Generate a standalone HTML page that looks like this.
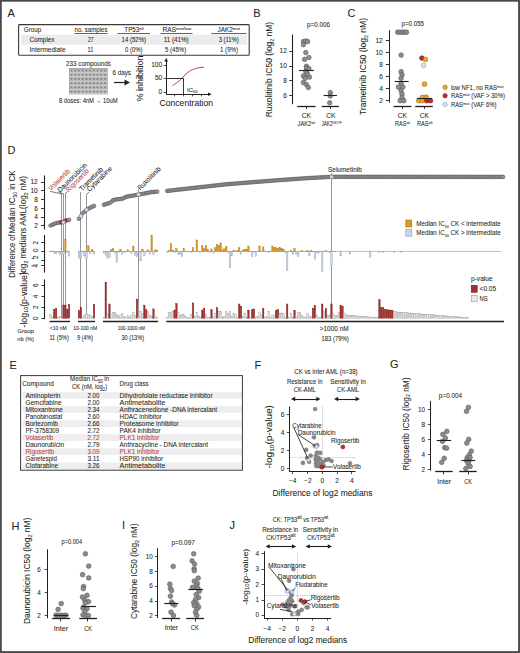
<!DOCTYPE html>
<html><head><meta charset="utf-8"><style>
html,body{margin:0;padding:0;background:#fff;}
body{width:520px;height:653px;overflow:hidden;}
svg{display:block;font-family:"Liberation Sans", sans-serif;}
</style></head><body>
<svg width="520" height="653" viewBox="0 0 520 653" fill="#231f20">
<rect x="0" y="0" width="520" height="653" fill="#ffffff"/>
<text x="7.60" y="17.20" font-size="11" stroke="#231f20" stroke-width="0.06">A</text>
<text x="253.20" y="17.20" font-size="11" stroke="#231f20" stroke-width="0.06">B</text>
<text x="347.40" y="17.00" font-size="11" stroke="#231f20" stroke-width="0.06">C</text>
<text x="7.60" y="153.80" font-size="11" stroke="#231f20" stroke-width="0.06">D</text>
<text x="9.40" y="368.60" font-size="11" stroke="#231f20" stroke-width="0.06">E</text>
<text x="254.40" y="369.40" font-size="11" stroke="#231f20" stroke-width="0.06">F</text>
<text x="390.00" y="368.40" font-size="11" stroke="#231f20" stroke-width="0.06">G</text>
<text x="11.40" y="530.00" font-size="11" stroke="#231f20" stroke-width="0.06">H</text>
<text x="122.00" y="529.40" font-size="11" stroke="#231f20" stroke-width="0.06">I</text>
<text x="229.40" y="529.40" font-size="11" stroke="#231f20" stroke-width="0.06">J</text>
<rect x="21.00" y="34.70" width="226.00" height="10.10" fill="#ececec"/>
<rect x="18.6" y="24.6" width="230.6" height="30.6" fill="none" stroke="#3a3a3a" stroke-width="1.1" rx="0.8"/>
<text x="23.80" y="31.90" font-size="6.6" stroke="#231f20" stroke-width="0.06" textLength="17.40" lengthAdjust="spacingAndGlyphs">Group</text>
<text x="74.50" y="31.90" font-size="6.6" stroke="#231f20" stroke-width="0.06" textLength="33.00" lengthAdjust="spacingAndGlyphs">no. samples</text>
<line x1="74.50" y1="33.50" x2="107.50" y2="33.50" stroke="#231f20" stroke-width="0.7"/>
<text x="124.30" y="31.90" font-size="6.6" stroke="#231f20" stroke-width="0.06" textLength="19.50" lengthAdjust="spacingAndGlyphs">TP53<tspan font-size="4.4" dy="-2.4">alt</tspan></text>
<line x1="117.50" y1="33.50" x2="150.00" y2="33.50" stroke="#231f20" stroke-width="0.7"/>
<text x="162.50" y="31.90" font-size="6.6" stroke="#231f20" stroke-width="0.06" textLength="28.70" lengthAdjust="spacingAndGlyphs">RAS<tspan font-size="4.4" dy="-2.4">mut/low</tspan></text>
<line x1="160.50" y1="33.50" x2="192.50" y2="33.50" stroke="#231f20" stroke-width="0.7"/>
<text x="217.50" y="31.90" font-size="6.6" stroke="#231f20" stroke-width="0.06" textLength="22.50" lengthAdjust="spacingAndGlyphs">JAK2<tspan font-size="4.4" dy="-2.4">mut</tspan></text>
<line x1="211.30" y1="33.50" x2="246.30" y2="33.50" stroke="#231f20" stroke-width="0.7"/>
<text x="29.50" y="42.40" font-size="6.6" stroke="#231f20" stroke-width="0.06" textLength="25.00" lengthAdjust="spacingAndGlyphs">Complex</text>
<text x="90.80" y="42.40" font-size="6.6" text-anchor="middle" stroke="#231f20" stroke-width="0.06" textLength="5.80" lengthAdjust="spacingAndGlyphs">27</text>
<text x="133.80" y="42.40" font-size="6.6" text-anchor="middle" stroke="#231f20" stroke-width="0.06" textLength="24.50" lengthAdjust="spacingAndGlyphs">14 (52%)</text>
<text x="176.20" y="42.40" font-size="6.6" text-anchor="middle" stroke="#231f20" stroke-width="0.06" textLength="25.00" lengthAdjust="spacingAndGlyphs">11 (41%)</text>
<text x="228.70" y="42.40" font-size="6.6" text-anchor="middle" stroke="#231f20" stroke-width="0.06" textLength="20.00" lengthAdjust="spacingAndGlyphs">3 (11%)</text>
<text x="29.50" y="52.40" font-size="6.6" stroke="#231f20" stroke-width="0.06" textLength="36.00" lengthAdjust="spacingAndGlyphs">Intermediate</text>
<text x="90.40" y="52.40" font-size="6.6" text-anchor="middle" stroke="#231f20" stroke-width="0.06" textLength="5.80" lengthAdjust="spacingAndGlyphs">11</text>
<text x="133.80" y="52.40" font-size="6.6" text-anchor="middle" stroke="#231f20" stroke-width="0.06" textLength="17.50" lengthAdjust="spacingAndGlyphs">0 (0%)</text>
<text x="175.60" y="52.40" font-size="6.6" text-anchor="middle" stroke="#231f20" stroke-width="0.06" textLength="21.20" lengthAdjust="spacingAndGlyphs">5 (45%)</text>
<text x="229.00" y="52.40" font-size="6.6" text-anchor="middle" stroke="#231f20" stroke-width="0.06" textLength="18.00" lengthAdjust="spacingAndGlyphs">1 (9%)</text>
<text x="66.00" y="66.20" font-size="6.6" stroke="#231f20" stroke-width="0.06" textLength="45.00" lengthAdjust="spacingAndGlyphs">233 compounds</text>
<rect x="69.30" y="68.30" width="37.90" height="25.70" fill="#b9b9b9" stroke="#8a8a8a" stroke-width="0.6"/>
<circle cx="71.60" cy="70.60" r="0.9" fill="#7c7c7c"/>
<circle cx="71.60" cy="74.80" r="0.9" fill="#7c7c7c"/>
<circle cx="71.60" cy="79.00" r="0.9" fill="#7c7c7c"/>
<circle cx="71.60" cy="83.20" r="0.9" fill="#7c7c7c"/>
<circle cx="71.60" cy="87.40" r="0.9" fill="#7c7c7c"/>
<circle cx="71.60" cy="91.60" r="0.9" fill="#7c7c7c"/>
<circle cx="75.30" cy="70.60" r="0.9" fill="#7c7c7c"/>
<circle cx="75.30" cy="74.80" r="0.9" fill="#7c7c7c"/>
<circle cx="75.30" cy="79.00" r="0.9" fill="#7c7c7c"/>
<circle cx="75.30" cy="83.20" r="0.9" fill="#7c7c7c"/>
<circle cx="75.30" cy="87.40" r="0.9" fill="#7c7c7c"/>
<circle cx="75.30" cy="91.60" r="0.9" fill="#7c7c7c"/>
<circle cx="79.00" cy="70.60" r="0.9" fill="#7c7c7c"/>
<circle cx="79.00" cy="74.80" r="0.9" fill="#7c7c7c"/>
<circle cx="79.00" cy="79.00" r="0.9" fill="#7c7c7c"/>
<circle cx="79.00" cy="83.20" r="0.9" fill="#7c7c7c"/>
<circle cx="79.00" cy="87.40" r="0.9" fill="#7c7c7c"/>
<circle cx="79.00" cy="91.60" r="0.9" fill="#7c7c7c"/>
<circle cx="82.70" cy="70.60" r="0.9" fill="#7c7c7c"/>
<circle cx="82.70" cy="74.80" r="0.9" fill="#7c7c7c"/>
<circle cx="82.70" cy="79.00" r="0.9" fill="#7c7c7c"/>
<circle cx="82.70" cy="83.20" r="0.9" fill="#7c7c7c"/>
<circle cx="82.70" cy="87.40" r="0.9" fill="#7c7c7c"/>
<circle cx="82.70" cy="91.60" r="0.9" fill="#7c7c7c"/>
<circle cx="86.40" cy="70.60" r="0.9" fill="#7c7c7c"/>
<circle cx="86.40" cy="74.80" r="0.9" fill="#7c7c7c"/>
<circle cx="86.40" cy="79.00" r="0.9" fill="#7c7c7c"/>
<circle cx="86.40" cy="83.20" r="0.9" fill="#7c7c7c"/>
<circle cx="86.40" cy="87.40" r="0.9" fill="#7c7c7c"/>
<circle cx="86.40" cy="91.60" r="0.9" fill="#7c7c7c"/>
<circle cx="90.10" cy="70.60" r="0.9" fill="#7c7c7c"/>
<circle cx="90.10" cy="74.80" r="0.9" fill="#7c7c7c"/>
<circle cx="90.10" cy="79.00" r="0.9" fill="#7c7c7c"/>
<circle cx="90.10" cy="83.20" r="0.9" fill="#7c7c7c"/>
<circle cx="90.10" cy="87.40" r="0.9" fill="#7c7c7c"/>
<circle cx="90.10" cy="91.60" r="0.9" fill="#7c7c7c"/>
<circle cx="93.80" cy="70.60" r="0.9" fill="#7c7c7c"/>
<circle cx="93.80" cy="74.80" r="0.9" fill="#7c7c7c"/>
<circle cx="93.80" cy="79.00" r="0.9" fill="#7c7c7c"/>
<circle cx="93.80" cy="83.20" r="0.9" fill="#7c7c7c"/>
<circle cx="93.80" cy="87.40" r="0.9" fill="#7c7c7c"/>
<circle cx="93.80" cy="91.60" r="0.9" fill="#7c7c7c"/>
<circle cx="97.50" cy="70.60" r="0.9" fill="#7c7c7c"/>
<circle cx="97.50" cy="74.80" r="0.9" fill="#7c7c7c"/>
<circle cx="97.50" cy="79.00" r="0.9" fill="#7c7c7c"/>
<circle cx="97.50" cy="83.20" r="0.9" fill="#7c7c7c"/>
<circle cx="97.50" cy="87.40" r="0.9" fill="#7c7c7c"/>
<circle cx="97.50" cy="91.60" r="0.9" fill="#7c7c7c"/>
<circle cx="101.20" cy="70.60" r="0.9" fill="#7c7c7c"/>
<circle cx="101.20" cy="74.80" r="0.9" fill="#7c7c7c"/>
<circle cx="101.20" cy="79.00" r="0.9" fill="#7c7c7c"/>
<circle cx="101.20" cy="83.20" r="0.9" fill="#7c7c7c"/>
<circle cx="101.20" cy="87.40" r="0.9" fill="#7c7c7c"/>
<circle cx="101.20" cy="91.60" r="0.9" fill="#7c7c7c"/>
<circle cx="104.90" cy="70.60" r="0.9" fill="#7c7c7c"/>
<circle cx="104.90" cy="74.80" r="0.9" fill="#7c7c7c"/>
<circle cx="104.90" cy="79.00" r="0.9" fill="#7c7c7c"/>
<circle cx="104.90" cy="83.20" r="0.9" fill="#7c7c7c"/>
<circle cx="104.90" cy="87.40" r="0.9" fill="#7c7c7c"/>
<circle cx="104.90" cy="91.60" r="0.9" fill="#7c7c7c"/>
<line x1="69.60" y1="72.50" x2="107.00" y2="72.50" stroke="#d8d8d8" stroke-width="0.6"/>
<line x1="69.60" y1="76.50" x2="107.00" y2="76.50" stroke="#d8d8d8" stroke-width="0.6"/>
<line x1="69.60" y1="81.50" x2="107.00" y2="81.50" stroke="#d8d8d8" stroke-width="0.6"/>
<line x1="69.60" y1="85.50" x2="107.00" y2="85.50" stroke="#d8d8d8" stroke-width="0.6"/>
<line x1="69.60" y1="89.50" x2="107.00" y2="89.50" stroke="#d8d8d8" stroke-width="0.6"/>
<line x1="69.60" y1="93.50" x2="107.00" y2="93.50" stroke="#d8d8d8" stroke-width="0.6"/>
<text x="59.00" y="102.60" font-size="6.6" stroke="#231f20" stroke-width="0.06" textLength="58.60" lengthAdjust="spacingAndGlyphs">8 doses: 4nM → 10uM</text>
<text x="112.50" y="75.20" font-size="6.6" stroke="#231f20" stroke-width="0.06" textLength="18.50" lengthAdjust="spacingAndGlyphs">6 days</text>
<line x1="114.00" y1="82.50" x2="126.00" y2="82.50" stroke="#231f20" stroke-width="1.2"/>
<path d="M124.5 79.6 L130 82.6 L124.5 85.6 Z" fill="#231f20"/>
<text x="143.20" y="78.50" font-size="9.2" text-anchor="middle" stroke="#231f20" stroke-width="0.06" textLength="46.00" lengthAdjust="spacingAndGlyphs" transform="rotate(-90 143.20 78.50)">% inhibition</text>
<line x1="166.50" y1="60.50" x2="166.50" y2="94.20" stroke="#231f20" stroke-width="1"/>
<path d="M164.4 61.5 L166.2 57.8 L168 61.5 Z" fill="#231f20"/>
<line x1="166.20" y1="94.50" x2="209.00" y2="94.50" stroke="#231f20" stroke-width="1"/>
<path d="M208 92.4 L211.7 94.2 L208 96 Z" fill="#231f20"/>
<line x1="163.60" y1="65.50" x2="166.20" y2="65.50" stroke="#231f20" stroke-width="0.8"/>
<line x1="163.60" y1="78.50" x2="166.20" y2="78.50" stroke="#231f20" stroke-width="0.8"/>
<line x1="163.60" y1="92.50" x2="166.20" y2="92.50" stroke="#231f20" stroke-width="0.8"/>
<line x1="174.50" y1="94.20" x2="174.50" y2="96.40" stroke="#231f20" stroke-width="0.8"/>
<line x1="183.50" y1="94.20" x2="183.50" y2="96.40" stroke="#231f20" stroke-width="0.8"/>
<line x1="192.50" y1="94.20" x2="192.50" y2="96.40" stroke="#231f20" stroke-width="0.8"/>
<line x1="201.50" y1="94.20" x2="201.50" y2="96.40" stroke="#231f20" stroke-width="0.8"/>
<text x="162.20" y="67.40" font-size="6.6" text-anchor="end" stroke="#231f20" stroke-width="0.06" textLength="11.00" lengthAdjust="spacingAndGlyphs">100</text>
<text x="162.20" y="80.40" font-size="6.6" text-anchor="end" stroke="#231f20" stroke-width="0.06" textLength="7.30" lengthAdjust="spacingAndGlyphs">50</text>
<text x="162.20" y="94.40" font-size="6.6" text-anchor="end" stroke="#231f20" stroke-width="0.06" textLength="3.60" lengthAdjust="spacingAndGlyphs">0</text>
<path d="M172.4 85.8 C178 82 181 80 184 76 C189 70 196 67.5 204 67.2" fill="none" stroke="#c8414b" stroke-width="1"/>
<line x1="166.20" y1="78.50" x2="183.20" y2="78.50" stroke="#231f20" stroke-width="0.9"/>
<line x1="183.50" y1="78.20" x2="183.50" y2="94.20" stroke="#231f20" stroke-width="0.9"/>
<text x="187.00" y="91.60" font-size="6.2" stroke="#231f20" stroke-width="0.06" textLength="10.50" lengthAdjust="spacingAndGlyphs">IC<tspan font-size="4" dy="1.4">50</tspan></text>
<text x="159.60" y="106.00" font-size="9.3" stroke="#231f20" stroke-width="0.06" textLength="53.40" lengthAdjust="spacingAndGlyphs">Concentration</text>
<text x="272.40" y="69.60" font-size="8.7" text-anchor="middle" stroke="#231f20" stroke-width="0.06" textLength="95.50" lengthAdjust="spacingAndGlyphs" transform="rotate(-90 272.40 69.60)">Ruxolitinib IC50 (log<tspan font-size="5.4" dy="1.8">2</tspan><tspan dy="-1.8"> nM)</tspan></text>
<text x="318.50" y="26.80" font-size="6.3" text-anchor="middle" stroke="#231f20" stroke-width="0.06" textLength="23.00" lengthAdjust="spacingAndGlyphs">p=0.006</text>
<line x1="292.50" y1="34.60" x2="292.50" y2="104.20" stroke="#231f20" stroke-width="1.1"/>
<line x1="289.20" y1="51.50" x2="292.60" y2="51.50" stroke="#231f20" stroke-width="0.9"/>
<text x="286.90" y="53.30" font-size="6.6" text-anchor="end" stroke="#231f20" stroke-width="0.06">12</text>
<line x1="289.20" y1="66.50" x2="292.60" y2="66.50" stroke="#231f20" stroke-width="0.9"/>
<text x="286.90" y="68.30" font-size="6.6" text-anchor="end" stroke="#231f20" stroke-width="0.06">10</text>
<line x1="289.20" y1="80.50" x2="292.60" y2="80.50" stroke="#231f20" stroke-width="0.9"/>
<text x="286.90" y="83.10" font-size="6.6" text-anchor="end" stroke="#231f20" stroke-width="0.06">8</text>
<line x1="289.20" y1="95.50" x2="292.60" y2="95.50" stroke="#231f20" stroke-width="0.9"/>
<text x="286.90" y="97.80" font-size="6.6" text-anchor="end" stroke="#231f20" stroke-width="0.06">6</text>
<circle cx="303.40" cy="41.60" r="2.3" fill="#8c8c8c" stroke="#555555" stroke-width="0.55"/>
<circle cx="305.80" cy="41.00" r="2.3" fill="#8c8c8c" stroke="#555555" stroke-width="0.55"/>
<circle cx="307.60" cy="41.60" r="2.3" fill="#8c8c8c" stroke="#555555" stroke-width="0.55"/>
<circle cx="303.40" cy="44.70" r="2.3" fill="#8c8c8c" stroke="#555555" stroke-width="0.55"/>
<circle cx="305.80" cy="52.60" r="2.3" fill="#8c8c8c" stroke="#555555" stroke-width="0.55"/>
<circle cx="308.90" cy="57.50" r="2.3" fill="#8c8c8c" stroke="#555555" stroke-width="0.55"/>
<circle cx="304.60" cy="59.40" r="2.3" fill="#8c8c8c" stroke="#555555" stroke-width="0.55"/>
<circle cx="306.40" cy="66.20" r="2.3" fill="#8c8c8c" stroke="#555555" stroke-width="0.55"/>
<circle cx="306.40" cy="68.00" r="2.3" fill="#8c8c8c" stroke="#555555" stroke-width="0.55"/>
<circle cx="308.90" cy="68.60" r="2.3" fill="#8c8c8c" stroke="#555555" stroke-width="0.55"/>
<circle cx="305.80" cy="71.60" r="2.3" fill="#8c8c8c" stroke="#555555" stroke-width="0.55"/>
<circle cx="303.40" cy="75.90" r="2.3" fill="#8c8c8c" stroke="#555555" stroke-width="0.55"/>
<circle cx="307.50" cy="74.00" r="2.3" fill="#8c8c8c" stroke="#555555" stroke-width="0.55"/>
<circle cx="309.50" cy="77.10" r="2.3" fill="#8c8c8c" stroke="#555555" stroke-width="0.55"/>
<circle cx="305.20" cy="78.30" r="2.3" fill="#8c8c8c" stroke="#555555" stroke-width="0.55"/>
<circle cx="303.40" cy="82.60" r="2.3" fill="#8c8c8c" stroke="#555555" stroke-width="0.55"/>
<circle cx="306.40" cy="84.50" r="2.3" fill="#8c8c8c" stroke="#555555" stroke-width="0.55"/>
<circle cx="308.30" cy="87.50" r="2.3" fill="#8c8c8c" stroke="#555555" stroke-width="0.55"/>
<circle cx="330.30" cy="92.60" r="2.3" fill="#8c8c8c" stroke="#555555" stroke-width="0.55"/>
<circle cx="330.30" cy="96.00" r="2.3" fill="#8c8c8c" stroke="#555555" stroke-width="0.55"/>
<circle cx="329.70" cy="102.80" r="2.3" fill="#8c8c8c" stroke="#555555" stroke-width="0.55"/>
<line x1="299.00" y1="70.50" x2="313.80" y2="70.50" stroke="#231f20" stroke-width="1.1"/>
<line x1="323.60" y1="95.50" x2="337.00" y2="95.50" stroke="#231f20" stroke-width="1.1"/>
<line x1="297.20" y1="106.50" x2="315.60" y2="106.50" stroke="#231f20" stroke-width="1.3"/>
<line x1="321.70" y1="106.50" x2="338.90" y2="106.50" stroke="#231f20" stroke-width="1.3"/>
<line x1="306.50" y1="106.00" x2="306.50" y2="109.00" stroke="#231f20" stroke-width="0.9"/>
<line x1="330.50" y1="106.00" x2="330.50" y2="109.00" stroke="#231f20" stroke-width="0.9"/>
<text x="306.30" y="118.20" font-size="6.6" text-anchor="middle" stroke="#231f20" stroke-width="0.06">CK</text>
<text x="306.30" y="126.20" font-size="6.6" text-anchor="middle" stroke="#231f20" stroke-width="0.06" textLength="17.50" lengthAdjust="spacingAndGlyphs">JAK2<tspan font-size="4.4" dy="-2.4">wt</tspan></text>
<text x="330.80" y="118.20" font-size="6.6" text-anchor="middle" stroke="#231f20" stroke-width="0.06">CK</text>
<text x="331.50" y="126.20" font-size="6.6" text-anchor="middle" stroke="#231f20" stroke-width="0.06" textLength="20.00" lengthAdjust="spacingAndGlyphs">JAK2<tspan font-size="4.4" dy="-2.4">V617F</tspan></text>
<text x="366.20" y="66.50" font-size="8.7" text-anchor="middle" stroke="#231f20" stroke-width="0.06" textLength="97.00" lengthAdjust="spacingAndGlyphs" transform="rotate(-90 366.20 66.50)">Trametinib IC50 (log<tspan font-size="5.4" dy="1.8">2</tspan><tspan dy="-1.8"> nM)</tspan></text>
<text x="412.80" y="26.40" font-size="6.3" text-anchor="middle" stroke="#231f20" stroke-width="0.06" textLength="22.50" lengthAdjust="spacingAndGlyphs">p=0.055</text>
<line x1="389.50" y1="30.20" x2="389.50" y2="102.60" stroke="#231f20" stroke-width="1"/>
<line x1="385.80" y1="40.50" x2="389.20" y2="40.50" stroke="#231f20" stroke-width="0.9"/>
<text x="382.80" y="42.70" font-size="6.6" text-anchor="end" stroke="#231f20" stroke-width="0.06">12</text>
<line x1="385.80" y1="52.50" x2="389.20" y2="52.50" stroke="#231f20" stroke-width="0.9"/>
<text x="382.80" y="54.60" font-size="6.6" text-anchor="end" stroke="#231f20" stroke-width="0.06">10</text>
<line x1="385.80" y1="64.50" x2="389.20" y2="64.50" stroke="#231f20" stroke-width="0.9"/>
<text x="382.80" y="66.60" font-size="6.6" text-anchor="end" stroke="#231f20" stroke-width="0.06">8</text>
<line x1="385.80" y1="76.50" x2="389.20" y2="76.50" stroke="#231f20" stroke-width="0.9"/>
<text x="382.80" y="78.50" font-size="6.6" text-anchor="end" stroke="#231f20" stroke-width="0.06">6</text>
<line x1="385.80" y1="88.50" x2="389.20" y2="88.50" stroke="#231f20" stroke-width="0.9"/>
<text x="382.80" y="90.70" font-size="6.6" text-anchor="end" stroke="#231f20" stroke-width="0.06">4</text>
<line x1="385.80" y1="100.50" x2="389.20" y2="100.50" stroke="#231f20" stroke-width="0.9"/>
<text x="382.80" y="102.80" font-size="6.6" text-anchor="end" stroke="#231f20" stroke-width="0.06">2</text>
<circle cx="397.70" cy="32.20" r="2.35" fill="#8c8c8c" stroke="#555555" stroke-width="0.55"/>
<circle cx="400.00" cy="32.20" r="2.35" fill="#8c8c8c" stroke="#555555" stroke-width="0.55"/>
<circle cx="402.20" cy="32.20" r="2.35" fill="#8c8c8c" stroke="#555555" stroke-width="0.55"/>
<circle cx="404.40" cy="32.20" r="2.35" fill="#8c8c8c" stroke="#555555" stroke-width="0.55"/>
<circle cx="406.40" cy="32.20" r="2.35" fill="#8c8c8c" stroke="#555555" stroke-width="0.55"/>
<circle cx="401.10" cy="55.10" r="2.35" fill="#8c8c8c" stroke="#555555" stroke-width="0.55"/>
<circle cx="401.10" cy="71.70" r="2.35" fill="#8c8c8c" stroke="#555555" stroke-width="0.55"/>
<circle cx="402.00" cy="74.80" r="2.35" fill="#8c8c8c" stroke="#555555" stroke-width="0.55"/>
<circle cx="401.10" cy="78.30" r="2.35" fill="#8c8c8c" stroke="#555555" stroke-width="0.55"/>
<circle cx="401.10" cy="83.60" r="2.35" fill="#8c8c8c" stroke="#555555" stroke-width="0.55"/>
<circle cx="398.50" cy="87.10" r="2.35" fill="#8c8c8c" stroke="#555555" stroke-width="0.55"/>
<circle cx="402.90" cy="87.10" r="2.35" fill="#8c8c8c" stroke="#555555" stroke-width="0.55"/>
<circle cx="401.10" cy="90.70" r="2.35" fill="#8c8c8c" stroke="#555555" stroke-width="0.55"/>
<circle cx="402.00" cy="94.20" r="2.35" fill="#8c8c8c" stroke="#555555" stroke-width="0.55"/>
<circle cx="402.00" cy="97.70" r="2.35" fill="#8c8c8c" stroke="#555555" stroke-width="0.55"/>
<circle cx="400.20" cy="100.70" r="2.35" fill="#8c8c8c" stroke="#555555" stroke-width="0.55"/>
<circle cx="403.80" cy="100.70" r="2.35" fill="#8c8c8c" stroke="#555555" stroke-width="0.55"/>
<line x1="394.70" y1="81.50" x2="408.70" y2="81.50" stroke="#231f20" stroke-width="1.1"/>
<circle cx="421.90" cy="58.10" r="2.35" fill="#c42c2c" stroke="#6a1010" stroke-width="0.55"/>
<circle cx="425.40" cy="59.50" r="2.35" fill="#f0a626" stroke="#8a5a10" stroke-width="0.55"/>
<circle cx="423.60" cy="65.50" r="2.35" fill="#d0e2f4" stroke="#8090a8" stroke-width="0.55"/>
<circle cx="424.50" cy="84.20" r="2.35" fill="#f0a626" stroke="#8a5a10" stroke-width="0.55"/>
<circle cx="422.40" cy="97.40" r="2.35" fill="#f0a626" stroke="#8a5a10" stroke-width="0.55"/>
<circle cx="426.20" cy="97.20" r="2.35" fill="#f0a626" stroke="#8a5a10" stroke-width="0.55"/>
<circle cx="418.70" cy="100.70" r="2.35" fill="#f0a626" stroke="#8a5a10" stroke-width="0.55"/>
<circle cx="422.10" cy="100.70" r="2.35" fill="#f0a626" stroke="#8a5a10" stroke-width="0.55"/>
<circle cx="426.70" cy="100.70" r="2.35" fill="#c42c2c" stroke="#6a1010" stroke-width="0.55"/>
<circle cx="430.50" cy="100.70" r="2.35" fill="#c42c2c" stroke="#6a1010" stroke-width="0.55"/>
<line x1="417.00" y1="98.50" x2="432.00" y2="98.50" stroke="#231f20" stroke-width="1.1"/>
<line x1="393.50" y1="106.50" x2="411.40" y2="106.50" stroke="#231f20" stroke-width="1.3"/>
<line x1="415.20" y1="106.50" x2="432.80" y2="106.50" stroke="#231f20" stroke-width="1.3"/>
<line x1="402.50" y1="106.00" x2="402.50" y2="109.00" stroke="#231f20" stroke-width="0.9"/>
<line x1="424.50" y1="106.00" x2="424.50" y2="109.00" stroke="#231f20" stroke-width="0.9"/>
<text x="402.30" y="118.30" font-size="6.6" text-anchor="middle" stroke="#231f20" stroke-width="0.06">CK</text>
<text x="402.60" y="126.30" font-size="6.6" text-anchor="middle" stroke="#231f20" stroke-width="0.06" textLength="15.00" lengthAdjust="spacingAndGlyphs">RAS<tspan font-size="4.4" dy="-2.4">wt</tspan></text>
<text x="424.30" y="118.30" font-size="6.6" text-anchor="middle" stroke="#231f20" stroke-width="0.06">CK</text>
<text x="424.80" y="126.30" font-size="6.6" text-anchor="middle" stroke="#231f20" stroke-width="0.06" textLength="15.50" lengthAdjust="spacingAndGlyphs">RAS<tspan font-size="4.4" dy="-2.4">alt</tspan></text>
<circle cx="445.10" cy="87.30" r="2.2" fill="#f0a626" stroke="#8a5a10" stroke-width="0.5"/>
<circle cx="445.10" cy="95.80" r="2.2" fill="#c42c2c" stroke="#6a1010" stroke-width="0.5"/>
<circle cx="445.10" cy="104.40" r="2.2" fill="#d0e2f4" stroke="#8090a8" stroke-width="0.5"/>
<text x="450.90" y="89.90" font-size="6.6" stroke="#231f20" stroke-width="0.06" textLength="52.70" lengthAdjust="spacingAndGlyphs">low NF1, no RAS<tspan font-size="4.4" dy="-2.4">mut</tspan></text>
<text x="450.90" y="98.40" font-size="6.6" stroke="#231f20" stroke-width="0.06" textLength="54.00" lengthAdjust="spacingAndGlyphs">RAS<tspan font-size="4.4" dy="-2.4">mut</tspan><tspan dy="2.4"> (VAF &gt; 30%)</tspan></text>
<text x="450.90" y="107.00" font-size="6.6" stroke="#231f20" stroke-width="0.06" textLength="45.50" lengthAdjust="spacingAndGlyphs">RAS<tspan font-size="4.4" dy="-2.4">mut</tspan><tspan dy="2.4"> (VAF 6%)</tspan></text>
<line x1="44.50" y1="175.40" x2="44.50" y2="229.40" stroke="#231f20" stroke-width="1.1"/>
<line x1="41.00" y1="182.50" x2="44.20" y2="182.50" stroke="#231f20" stroke-width="0.9"/>
<text x="37.80" y="184.30" font-size="6.6" text-anchor="end" stroke="#231f20" stroke-width="0.06">12</text>
<line x1="41.00" y1="190.50" x2="44.20" y2="190.50" stroke="#231f20" stroke-width="0.9"/>
<text x="37.80" y="193.20" font-size="6.6" text-anchor="end" stroke="#231f20" stroke-width="0.06">10</text>
<line x1="41.00" y1="199.50" x2="44.20" y2="199.50" stroke="#231f20" stroke-width="0.9"/>
<text x="37.80" y="202.20" font-size="6.6" text-anchor="end" stroke="#231f20" stroke-width="0.06">8</text>
<line x1="41.00" y1="208.50" x2="44.20" y2="208.50" stroke="#231f20" stroke-width="0.9"/>
<text x="37.80" y="210.70" font-size="6.6" text-anchor="end" stroke="#231f20" stroke-width="0.06">6</text>
<line x1="41.00" y1="217.50" x2="44.20" y2="217.50" stroke="#231f20" stroke-width="0.9"/>
<text x="37.80" y="219.30" font-size="6.6" text-anchor="end" stroke="#231f20" stroke-width="0.06">4</text>
<line x1="41.00" y1="225.50" x2="44.20" y2="225.50" stroke="#231f20" stroke-width="0.9"/>
<text x="37.80" y="227.90" font-size="6.6" text-anchor="end" stroke="#231f20" stroke-width="0.06">2</text>
<line x1="44.50" y1="234.90" x2="44.50" y2="272.60" stroke="#231f20" stroke-width="1.1"/>
<line x1="41.20" y1="242.50" x2="44.20" y2="242.50" stroke="#231f20" stroke-width="0.9"/>
<line x1="41.20" y1="251.50" x2="44.20" y2="251.50" stroke="#231f20" stroke-width="0.9"/>
<line x1="41.20" y1="260.50" x2="44.20" y2="260.50" stroke="#231f20" stroke-width="0.9"/>
<line x1="41.20" y1="265.50" x2="44.20" y2="265.50" stroke="#231f20" stroke-width="0.9"/>
<text x="38.40" y="242.60" font-size="6.4" text-anchor="middle" stroke="#231f20" stroke-width="0.06" transform="rotate(-90 38.40 242.60)">2</text>
<text x="38.40" y="250.30" font-size="6.4" text-anchor="middle" stroke="#231f20" stroke-width="0.06" transform="rotate(-90 38.40 250.30)">0</text>
<text x="38.40" y="257.20" font-size="6.4" text-anchor="middle" stroke="#231f20" stroke-width="0.06" transform="rotate(-90 38.40 257.20)">2</text>
<text x="38.40" y="265.80" font-size="6.4" text-anchor="middle" stroke="#231f20" stroke-width="0.06" transform="rotate(-90 38.40 265.80)">4</text>
<line x1="31.60" y1="258.60" x2="34.20" y2="258.60" stroke="#231f20" stroke-width="0.8"/>
<line x1="31.40" y1="265.90" x2="34.00" y2="265.90" stroke="#231f20" stroke-width="0.8"/>
<line x1="49.60" y1="251.40" x2="70.00" y2="251.40" stroke="#8a8a8a" stroke-width="0.55"/>
<line x1="78.00" y1="251.40" x2="95.00" y2="251.40" stroke="#8a8a8a" stroke-width="0.55"/>
<line x1="103.00" y1="251.40" x2="158.10" y2="251.40" stroke="#8a8a8a" stroke-width="0.55"/>
<line x1="166.30" y1="251.40" x2="501.00" y2="251.40" stroke="#8a8a8a" stroke-width="0.55"/>
<line x1="44.50" y1="279.40" x2="44.50" y2="319.30" stroke="#231f20" stroke-width="1.1"/>
<line x1="41.40" y1="285.50" x2="44.20" y2="285.50" stroke="#231f20" stroke-width="0.9"/>
<text x="38.30" y="285.20" font-size="6.4" text-anchor="middle" stroke="#231f20" stroke-width="0.06" transform="rotate(-90 38.30 285.20)">6</text>
<line x1="41.40" y1="296.50" x2="44.20" y2="296.50" stroke="#231f20" stroke-width="0.9"/>
<text x="38.30" y="296.40" font-size="6.4" text-anchor="middle" stroke="#231f20" stroke-width="0.06" transform="rotate(-90 38.30 296.40)">4</text>
<line x1="41.40" y1="307.50" x2="44.20" y2="307.50" stroke="#231f20" stroke-width="0.9"/>
<text x="38.30" y="307.30" font-size="6.4" text-anchor="middle" stroke="#231f20" stroke-width="0.06" transform="rotate(-90 38.30 307.30)">2</text>
<line x1="41.40" y1="318.50" x2="44.20" y2="318.50" stroke="#231f20" stroke-width="0.9"/>
<text x="38.30" y="318.30" font-size="6.4" text-anchor="middle" stroke="#231f20" stroke-width="0.06" transform="rotate(-90 38.30 318.30)">0</text>
<text x="15.00" y="202.00" font-size="8.8" text-anchor="middle" stroke="#231f20" stroke-width="0.06" textLength="63.20" lengthAdjust="spacingAndGlyphs" transform="rotate(-90 15.00 202.00)">Median IC<tspan font-size="5.4" dy="1.9">50</tspan><tspan dy="-1.9"> in CK</tspan></text>
<text x="15.00" y="256.00" font-size="8.8" text-anchor="middle" stroke="#231f20" stroke-width="0.06" textLength="43.50" lengthAdjust="spacingAndGlyphs" transform="rotate(-90 15.00 256.00)">Difference of</text>
<text x="26.30" y="225.30" font-size="8.8" text-anchor="middle" stroke="#231f20" stroke-width="0.06" textLength="98.50" lengthAdjust="spacingAndGlyphs" transform="rotate(-90 26.30 225.30)">log<tspan font-size="5.4" dy="1.9">2</tspan><tspan dy="-1.9"> medians AML(log</tspan><tspan font-size="5.4" dy="1.9">2</tspan><tspan dy="-1.9"> nM)</tspan></text>
<text x="26.60" y="299.80" font-size="8.8" text-anchor="middle" stroke="#231f20" stroke-width="0.06" textLength="55.50" lengthAdjust="spacingAndGlyphs" transform="rotate(-90 26.60 299.80)">-log<tspan font-size="5.4" dy="1.9">10</tspan><tspan dy="-1.9">(p-value)</tspan></text>
<line x1="61.50" y1="193.50" x2="61.50" y2="318.20" stroke="#8a8a8a" stroke-width="0.9"/>
<line x1="63.50" y1="193.80" x2="63.50" y2="318.20" stroke="#8a8a8a" stroke-width="0.9"/>
<line x1="65.50" y1="194.00" x2="65.50" y2="318.20" stroke="#8a8a8a" stroke-width="0.9"/>
<line x1="80.50" y1="191.80" x2="80.50" y2="318.20" stroke="#8a8a8a" stroke-width="0.9"/>
<line x1="86.50" y1="194.60" x2="86.50" y2="318.20" stroke="#8a8a8a" stroke-width="0.9"/>
<line x1="138.50" y1="189.50" x2="138.50" y2="318.20" stroke="#8a8a8a" stroke-width="0.9"/>
<line x1="331.50" y1="173.00" x2="331.50" y2="318.20" stroke="#8a8a8a" stroke-width="0.9"/>
<polyline points="50,191.4 60.6,193.6 61.5,193.6" fill="none" stroke="#231f20" stroke-width="0.6"/>
<polyline points="58.4,191.6 63.6,194.2" fill="none" stroke="#231f20" stroke-width="0.6"/>
<polyline points="67,191.6 65.3,194.2" fill="none" stroke="#231f20" stroke-width="0.6"/>
<polyline points="89.2,191.8 86.5,194.6" fill="none" stroke="#231f20" stroke-width="0.6"/>
<rect x="49.79" y="251.40" width="1.48" height="0.45" fill="#c9d7e8" stroke="#8a9bb0" stroke-width="0.35"/>
<rect x="49.79" y="314.37" width="1.48" height="3.83" fill="#e2e2e2" stroke="#9a9a9a" stroke-width="0.35"/>
<rect x="51.64" y="251.40" width="1.48" height="0.45" fill="#c9d7e8" stroke="#8a9bb0" stroke-width="0.35"/>
<rect x="51.64" y="316.56" width="1.48" height="1.64" fill="#e2e2e2" stroke="#9a9a9a" stroke-width="0.35"/>
<rect x="53.49" y="251.40" width="1.48" height="1.80" fill="#c9d7e8" stroke="#8a9bb0" stroke-width="0.35"/>
<rect x="53.49" y="309.17" width="1.48" height="9.03" fill="#a82e2e" stroke="#6e1414" stroke-width="0.35"/>
<rect x="55.35" y="251.40" width="1.48" height="2.48" fill="#c9d7e8" stroke="#8a9bb0" stroke-width="0.35"/>
<rect x="55.35" y="308.35" width="1.48" height="9.85" fill="#a82e2e" stroke="#6e1414" stroke-width="0.35"/>
<rect x="57.20" y="251.40" width="1.48" height="0.90" fill="#c9d7e8" stroke="#8a9bb0" stroke-width="0.35"/>
<rect x="57.20" y="317.11" width="1.48" height="1.09" fill="#e2e2e2" stroke="#9a9a9a" stroke-width="0.35"/>
<rect x="59.06" y="251.40" width="1.48" height="2.93" fill="#c9d7e8" stroke="#8a9bb0" stroke-width="0.35"/>
<rect x="59.06" y="316.56" width="1.48" height="1.64" fill="#e2e2e2" stroke="#9a9a9a" stroke-width="0.35"/>
<rect x="60.91" y="251.40" width="1.48" height="3.15" fill="#c9d7e8" stroke="#8a9bb0" stroke-width="0.35"/>
<rect x="60.91" y="317.11" width="1.48" height="1.09" fill="#e2e2e2" stroke="#9a9a9a" stroke-width="0.35"/>
<rect x="62.77" y="251.40" width="1.48" height="3.15" fill="#c9d7e8" stroke="#8a9bb0" stroke-width="0.35"/>
<rect x="62.77" y="305.07" width="1.48" height="13.13" fill="#a82e2e" stroke="#6e1414" stroke-width="0.35"/>
<rect x="64.62" y="239.70" width="1.48" height="11.70" fill="#da9a24" stroke="#a8761c" stroke-width="0.35"/>
<rect x="64.62" y="305.07" width="1.48" height="13.13" fill="#a82e2e" stroke="#6e1414" stroke-width="0.35"/>
<rect x="66.48" y="251.40" width="1.48" height="0.90" fill="#c9d7e8" stroke="#8a9bb0" stroke-width="0.35"/>
<rect x="66.48" y="309.17" width="1.48" height="9.03" fill="#a82e2e" stroke="#6e1414" stroke-width="0.35"/>
<rect x="68.33" y="251.40" width="1.48" height="4.73" fill="#c9d7e8" stroke="#8a9bb0" stroke-width="0.35"/>
<rect x="68.33" y="304.52" width="1.48" height="13.67" fill="#a82e2e" stroke="#6e1414" stroke-width="0.35"/>
<rect x="78.19" y="251.40" width="1.51" height="6.98" fill="#c9d7e8" stroke="#8a9bb0" stroke-width="0.35"/>
<rect x="78.19" y="310.54" width="1.51" height="7.66" fill="#a82e2e" stroke="#6e1414" stroke-width="0.35"/>
<rect x="80.08" y="251.40" width="1.51" height="7.20" fill="#c9d7e8" stroke="#8a9bb0" stroke-width="0.35"/>
<rect x="80.08" y="307.26" width="1.51" height="10.94" fill="#a82e2e" stroke="#6e1414" stroke-width="0.35"/>
<rect x="81.97" y="251.40" width="1.51" height="0.90" fill="#c9d7e8" stroke="#8a9bb0" stroke-width="0.35"/>
<rect x="81.97" y="317.11" width="1.51" height="1.09" fill="#e2e2e2" stroke="#9a9a9a" stroke-width="0.35"/>
<rect x="83.86" y="251.40" width="1.51" height="4.73" fill="#c9d7e8" stroke="#8a9bb0" stroke-width="0.35"/>
<rect x="83.86" y="314.92" width="1.51" height="3.28" fill="#e2e2e2" stroke="#9a9a9a" stroke-width="0.35"/>
<rect x="85.74" y="251.40" width="1.51" height="8.10" fill="#c9d7e8" stroke="#8a9bb0" stroke-width="0.35"/>
<rect x="85.74" y="313.28" width="1.51" height="4.92" fill="#e2e2e2" stroke="#9a9a9a" stroke-width="0.35"/>
<rect x="87.63" y="245.78" width="1.51" height="5.62" fill="#da9a24" stroke="#a8761c" stroke-width="0.35"/>
<rect x="87.63" y="314.37" width="1.51" height="3.83" fill="#e2e2e2" stroke="#9a9a9a" stroke-width="0.35"/>
<rect x="89.52" y="251.40" width="1.51" height="2.25" fill="#c9d7e8" stroke="#8a9bb0" stroke-width="0.35"/>
<rect x="89.52" y="315.46" width="1.51" height="2.73" fill="#e2e2e2" stroke="#9a9a9a" stroke-width="0.35"/>
<rect x="91.41" y="249.15" width="1.51" height="2.25" fill="#da9a24" stroke="#a8761c" stroke-width="0.35"/>
<rect x="91.41" y="316.56" width="1.51" height="1.64" fill="#e2e2e2" stroke="#9a9a9a" stroke-width="0.35"/>
<rect x="93.30" y="251.40" width="1.51" height="3.15" fill="#c9d7e8" stroke="#8a9bb0" stroke-width="0.35"/>
<rect x="93.30" y="304.25" width="1.51" height="13.95" fill="#a82e2e" stroke="#6e1414" stroke-width="0.35"/>
<rect x="103.18" y="251.40" width="1.47" height="1.80" fill="#c9d7e8" stroke="#8a9bb0" stroke-width="0.35"/>
<rect x="103.18" y="317.38" width="1.47" height="0.82" fill="#e2e2e2" stroke="#9a9a9a" stroke-width="0.35"/>
<rect x="105.02" y="251.40" width="1.47" height="4.05" fill="#c9d7e8" stroke="#8a9bb0" stroke-width="0.35"/>
<rect x="105.02" y="282.10" width="1.47" height="36.10" fill="#a82e2e" stroke="#6e1414" stroke-width="0.35"/>
<rect x="106.86" y="251.40" width="1.47" height="7.20" fill="#c9d7e8" stroke="#8a9bb0" stroke-width="0.35"/>
<rect x="106.86" y="314.10" width="1.47" height="4.10" fill="#e2e2e2" stroke="#9a9a9a" stroke-width="0.35"/>
<rect x="108.69" y="251.40" width="1.47" height="5.85" fill="#c9d7e8" stroke="#8a9bb0" stroke-width="0.35"/>
<rect x="108.69" y="303.98" width="1.47" height="14.22" fill="#a82e2e" stroke="#6e1414" stroke-width="0.35"/>
<rect x="110.53" y="249.60" width="1.47" height="1.80" fill="#da9a24" stroke="#a8761c" stroke-width="0.35"/>
<rect x="110.53" y="314.92" width="1.47" height="3.28" fill="#e2e2e2" stroke="#9a9a9a" stroke-width="0.35"/>
<rect x="112.37" y="248.47" width="1.47" height="2.93" fill="#da9a24" stroke="#a8761c" stroke-width="0.35"/>
<rect x="112.37" y="312.18" width="1.47" height="6.02" fill="#e2e2e2" stroke="#9a9a9a" stroke-width="0.35"/>
<rect x="114.20" y="251.40" width="1.47" height="1.80" fill="#c9d7e8" stroke="#8a9bb0" stroke-width="0.35"/>
<rect x="114.20" y="312.73" width="1.47" height="5.47" fill="#e2e2e2" stroke="#9a9a9a" stroke-width="0.35"/>
<rect x="116.04" y="251.40" width="1.47" height="11.25" fill="#c9d7e8" stroke="#8a9bb0" stroke-width="0.35"/>
<rect x="116.04" y="314.37" width="1.47" height="3.83" fill="#e2e2e2" stroke="#9a9a9a" stroke-width="0.35"/>
<rect x="117.88" y="251.40" width="1.47" height="0.90" fill="#c9d7e8" stroke="#8a9bb0" stroke-width="0.35"/>
<rect x="117.88" y="316.56" width="1.47" height="1.64" fill="#e2e2e2" stroke="#9a9a9a" stroke-width="0.35"/>
<rect x="119.71" y="249.15" width="1.47" height="2.25" fill="#da9a24" stroke="#a8761c" stroke-width="0.35"/>
<rect x="119.71" y="314.92" width="1.47" height="3.28" fill="#e2e2e2" stroke="#9a9a9a" stroke-width="0.35"/>
<rect x="121.55" y="251.40" width="1.47" height="2.70" fill="#c9d7e8" stroke="#8a9bb0" stroke-width="0.35"/>
<rect x="121.55" y="313.28" width="1.47" height="4.92" fill="#e2e2e2" stroke="#9a9a9a" stroke-width="0.35"/>
<rect x="123.39" y="251.40" width="1.47" height="0.90" fill="#c9d7e8" stroke="#8a9bb0" stroke-width="0.35"/>
<rect x="123.39" y="316.56" width="1.47" height="1.64" fill="#e2e2e2" stroke="#9a9a9a" stroke-width="0.35"/>
<rect x="125.22" y="251.40" width="1.47" height="0.90" fill="#c9d7e8" stroke="#8a9bb0" stroke-width="0.35"/>
<rect x="125.22" y="317.65" width="1.47" height="0.55" fill="#e2e2e2" stroke="#9a9a9a" stroke-width="0.35"/>
<rect x="127.06" y="249.83" width="1.47" height="1.57" fill="#da9a24" stroke="#a8761c" stroke-width="0.35"/>
<rect x="127.06" y="315.46" width="1.47" height="2.73" fill="#e2e2e2" stroke="#9a9a9a" stroke-width="0.35"/>
<rect x="128.90" y="251.40" width="1.47" height="0.45" fill="#c9d7e8" stroke="#8a9bb0" stroke-width="0.35"/>
<rect x="128.90" y="317.11" width="1.47" height="1.09" fill="#e2e2e2" stroke="#9a9a9a" stroke-width="0.35"/>
<rect x="130.73" y="251.40" width="1.47" height="1.80" fill="#c9d7e8" stroke="#8a9bb0" stroke-width="0.35"/>
<rect x="130.73" y="314.92" width="1.47" height="3.28" fill="#e2e2e2" stroke="#9a9a9a" stroke-width="0.35"/>
<rect x="132.57" y="246.00" width="1.47" height="5.40" fill="#da9a24" stroke="#a8761c" stroke-width="0.35"/>
<rect x="132.57" y="312.18" width="1.47" height="6.02" fill="#e2e2e2" stroke="#9a9a9a" stroke-width="0.35"/>
<rect x="134.41" y="251.40" width="1.47" height="4.05" fill="#c9d7e8" stroke="#8a9bb0" stroke-width="0.35"/>
<rect x="134.41" y="315.46" width="1.47" height="2.73" fill="#e2e2e2" stroke="#9a9a9a" stroke-width="0.35"/>
<rect x="136.24" y="251.40" width="1.47" height="5.40" fill="#c9d7e8" stroke="#8a9bb0" stroke-width="0.35"/>
<rect x="136.24" y="299.06" width="1.47" height="19.14" fill="#a82e2e" stroke="#6e1414" stroke-width="0.35"/>
<rect x="138.08" y="251.40" width="1.47" height="1.35" fill="#c9d7e8" stroke="#8a9bb0" stroke-width="0.35"/>
<rect x="138.08" y="316.01" width="1.47" height="2.19" fill="#e2e2e2" stroke="#9a9a9a" stroke-width="0.35"/>
<rect x="139.92" y="251.40" width="1.47" height="9.45" fill="#c9d7e8" stroke="#8a9bb0" stroke-width="0.35"/>
<rect x="139.92" y="311.09" width="1.47" height="7.11" fill="#e2e2e2" stroke="#9a9a9a" stroke-width="0.35"/>
<rect x="141.75" y="249.15" width="1.47" height="2.25" fill="#da9a24" stroke="#a8761c" stroke-width="0.35"/>
<rect x="141.75" y="313.82" width="1.47" height="4.38" fill="#e2e2e2" stroke="#9a9a9a" stroke-width="0.35"/>
<rect x="143.59" y="251.40" width="1.47" height="4.50" fill="#c9d7e8" stroke="#8a9bb0" stroke-width="0.35"/>
<rect x="143.59" y="305.07" width="1.47" height="13.13" fill="#a82e2e" stroke="#6e1414" stroke-width="0.35"/>
<rect x="145.43" y="251.40" width="1.47" height="0.90" fill="#c9d7e8" stroke="#8a9bb0" stroke-width="0.35"/>
<rect x="145.43" y="309.72" width="1.47" height="8.48" fill="#a82e2e" stroke="#6e1414" stroke-width="0.35"/>
<rect x="147.26" y="249.83" width="1.47" height="1.57" fill="#da9a24" stroke="#a8761c" stroke-width="0.35"/>
<rect x="147.26" y="311.64" width="1.47" height="6.56" fill="#e2e2e2" stroke="#9a9a9a" stroke-width="0.35"/>
<rect x="149.10" y="251.40" width="1.47" height="2.70" fill="#c9d7e8" stroke="#8a9bb0" stroke-width="0.35"/>
<rect x="149.10" y="315.46" width="1.47" height="2.73" fill="#e2e2e2" stroke="#9a9a9a" stroke-width="0.35"/>
<rect x="150.94" y="235.20" width="1.47" height="16.20" fill="#da9a24" stroke="#a8761c" stroke-width="0.35"/>
<rect x="150.94" y="316.56" width="1.47" height="1.64" fill="#e2e2e2" stroke="#9a9a9a" stroke-width="0.35"/>
<rect x="152.77" y="251.40" width="1.47" height="3.38" fill="#c9d7e8" stroke="#8a9bb0" stroke-width="0.35"/>
<rect x="152.77" y="308.90" width="1.47" height="9.30" fill="#a82e2e" stroke="#6e1414" stroke-width="0.35"/>
<rect x="154.61" y="249.83" width="1.47" height="1.57" fill="#da9a24" stroke="#a8761c" stroke-width="0.35"/>
<rect x="154.61" y="316.56" width="1.47" height="1.64" fill="#e2e2e2" stroke="#9a9a9a" stroke-width="0.35"/>
<rect x="156.45" y="250.50" width="1.47" height="0.90" fill="#da9a24" stroke="#a8761c" stroke-width="0.35"/>
<rect x="156.45" y="317.65" width="1.47" height="0.55" fill="#e2e2e2" stroke="#9a9a9a" stroke-width="0.35"/>
<rect x="166.48" y="251.40" width="1.48" height="0.90" fill="#c9d7e8" stroke="#8a9bb0" stroke-width="0.35"/>
<rect x="166.48" y="317.11" width="1.48" height="1.09" fill="#e2e2e2" stroke="#9a9a9a" stroke-width="0.35"/>
<rect x="168.33" y="250.50" width="1.48" height="0.90" fill="#da9a24" stroke="#a8761c" stroke-width="0.35"/>
<rect x="168.33" y="312.73" width="1.48" height="5.47" fill="#e2e2e2" stroke="#9a9a9a" stroke-width="0.35"/>
<rect x="170.18" y="243.53" width="1.48" height="7.88" fill="#da9a24" stroke="#a8761c" stroke-width="0.35"/>
<rect x="170.18" y="312.73" width="1.48" height="5.47" fill="#e2e2e2" stroke="#9a9a9a" stroke-width="0.35"/>
<rect x="172.02" y="250.05" width="1.48" height="1.35" fill="#da9a24" stroke="#a8761c" stroke-width="0.35"/>
<rect x="172.02" y="311.36" width="1.48" height="6.84" fill="#e2e2e2" stroke="#9a9a9a" stroke-width="0.35"/>
<rect x="173.87" y="251.40" width="1.48" height="1.35" fill="#c9d7e8" stroke="#8a9bb0" stroke-width="0.35"/>
<rect x="173.87" y="310.00" width="1.48" height="8.21" fill="#a82e2e" stroke="#6e1414" stroke-width="0.35"/>
<rect x="175.71" y="248.47" width="1.48" height="2.93" fill="#da9a24" stroke="#a8761c" stroke-width="0.35"/>
<rect x="175.71" y="303.43" width="1.48" height="14.77" fill="#a82e2e" stroke="#6e1414" stroke-width="0.35"/>
<rect x="177.56" y="251.40" width="1.48" height="3.38" fill="#c9d7e8" stroke="#8a9bb0" stroke-width="0.35"/>
<rect x="177.56" y="312.18" width="1.48" height="6.02" fill="#e2e2e2" stroke="#9a9a9a" stroke-width="0.35"/>
<rect x="179.40" y="251.40" width="1.48" height="2.70" fill="#c9d7e8" stroke="#8a9bb0" stroke-width="0.35"/>
<rect x="179.40" y="315.46" width="1.48" height="2.73" fill="#e2e2e2" stroke="#9a9a9a" stroke-width="0.35"/>
<rect x="181.25" y="251.40" width="1.48" height="5.40" fill="#c9d7e8" stroke="#8a9bb0" stroke-width="0.35"/>
<rect x="181.25" y="314.10" width="1.48" height="4.10" fill="#e2e2e2" stroke="#9a9a9a" stroke-width="0.35"/>
<rect x="183.09" y="248.47" width="1.48" height="2.93" fill="#da9a24" stroke="#a8761c" stroke-width="0.35"/>
<rect x="183.09" y="314.10" width="1.48" height="4.10" fill="#e2e2e2" stroke="#9a9a9a" stroke-width="0.35"/>
<rect x="184.94" y="251.40" width="1.48" height="0.45" fill="#c9d7e8" stroke="#8a9bb0" stroke-width="0.35"/>
<rect x="184.94" y="316.56" width="1.48" height="1.64" fill="#e2e2e2" stroke="#9a9a9a" stroke-width="0.35"/>
<rect x="186.78" y="251.40" width="1.48" height="0.45" fill="#c9d7e8" stroke="#8a9bb0" stroke-width="0.35"/>
<rect x="186.78" y="317.65" width="1.48" height="0.55" fill="#e2e2e2" stroke="#9a9a9a" stroke-width="0.35"/>
<rect x="188.63" y="251.40" width="1.48" height="0.45" fill="#c9d7e8" stroke="#8a9bb0" stroke-width="0.35"/>
<rect x="188.63" y="317.65" width="1.48" height="0.55" fill="#e2e2e2" stroke="#9a9a9a" stroke-width="0.35"/>
<rect x="190.47" y="251.40" width="1.48" height="1.35" fill="#c9d7e8" stroke="#8a9bb0" stroke-width="0.35"/>
<rect x="190.47" y="314.10" width="1.48" height="4.10" fill="#e2e2e2" stroke="#9a9a9a" stroke-width="0.35"/>
<rect x="192.32" y="247.80" width="1.48" height="3.60" fill="#da9a24" stroke="#a8761c" stroke-width="0.35"/>
<rect x="192.32" y="302.88" width="1.48" height="15.32" fill="#a82e2e" stroke="#6e1414" stroke-width="0.35"/>
<rect x="194.16" y="251.40" width="1.48" height="0.45" fill="#c9d7e8" stroke="#8a9bb0" stroke-width="0.35"/>
<rect x="194.16" y="316.56" width="1.48" height="1.64" fill="#e2e2e2" stroke="#9a9a9a" stroke-width="0.35"/>
<rect x="196.01" y="239.93" width="1.48" height="11.47" fill="#da9a24" stroke="#a8761c" stroke-width="0.35"/>
<rect x="196.01" y="312.18" width="1.48" height="6.02" fill="#e2e2e2" stroke="#9a9a9a" stroke-width="0.35"/>
<rect x="197.86" y="251.40" width="1.48" height="0.45" fill="#c9d7e8" stroke="#8a9bb0" stroke-width="0.35"/>
<rect x="197.86" y="316.01" width="1.48" height="2.19" fill="#e2e2e2" stroke="#9a9a9a" stroke-width="0.35"/>
<rect x="199.70" y="251.40" width="1.48" height="0.90" fill="#c9d7e8" stroke="#8a9bb0" stroke-width="0.35"/>
<rect x="199.70" y="317.11" width="1.48" height="1.09" fill="#e2e2e2" stroke="#9a9a9a" stroke-width="0.35"/>
<rect x="201.55" y="245.78" width="1.48" height="5.62" fill="#da9a24" stroke="#a8761c" stroke-width="0.35"/>
<rect x="201.55" y="310.00" width="1.48" height="8.21" fill="#a82e2e" stroke="#6e1414" stroke-width="0.35"/>
<rect x="203.39" y="248.70" width="1.48" height="2.70" fill="#da9a24" stroke="#a8761c" stroke-width="0.35"/>
<rect x="203.39" y="308.08" width="1.48" height="10.12" fill="#a82e2e" stroke="#6e1414" stroke-width="0.35"/>
<rect x="205.24" y="245.33" width="1.48" height="6.08" fill="#da9a24" stroke="#a8761c" stroke-width="0.35"/>
<rect x="205.24" y="314.10" width="1.48" height="4.10" fill="#e2e2e2" stroke="#9a9a9a" stroke-width="0.35"/>
<rect x="207.08" y="249.15" width="1.48" height="2.25" fill="#da9a24" stroke="#a8761c" stroke-width="0.35"/>
<rect x="207.08" y="317.11" width="1.48" height="1.09" fill="#e2e2e2" stroke="#9a9a9a" stroke-width="0.35"/>
<rect x="208.93" y="251.40" width="1.48" height="0.90" fill="#c9d7e8" stroke="#8a9bb0" stroke-width="0.35"/>
<rect x="208.93" y="317.65" width="1.48" height="0.55" fill="#e2e2e2" stroke="#9a9a9a" stroke-width="0.35"/>
<rect x="210.77" y="248.93" width="1.48" height="2.48" fill="#da9a24" stroke="#a8761c" stroke-width="0.35"/>
<rect x="210.77" y="309.72" width="1.48" height="8.48" fill="#a82e2e" stroke="#6e1414" stroke-width="0.35"/>
<rect x="212.62" y="251.40" width="1.48" height="1.80" fill="#c9d7e8" stroke="#8a9bb0" stroke-width="0.35"/>
<rect x="212.62" y="316.56" width="1.48" height="1.64" fill="#e2e2e2" stroke="#9a9a9a" stroke-width="0.35"/>
<rect x="214.46" y="247.80" width="1.48" height="3.60" fill="#da9a24" stroke="#a8761c" stroke-width="0.35"/>
<rect x="214.46" y="313.82" width="1.48" height="4.38" fill="#e2e2e2" stroke="#9a9a9a" stroke-width="0.35"/>
<rect x="216.31" y="244.65" width="1.48" height="6.75" fill="#da9a24" stroke="#a8761c" stroke-width="0.35"/>
<rect x="216.31" y="307.81" width="1.48" height="10.39" fill="#a82e2e" stroke="#6e1414" stroke-width="0.35"/>
<rect x="218.15" y="245.10" width="1.48" height="6.30" fill="#da9a24" stroke="#a8761c" stroke-width="0.35"/>
<rect x="218.15" y="311.36" width="1.48" height="6.84" fill="#e2e2e2" stroke="#9a9a9a" stroke-width="0.35"/>
<rect x="220.00" y="242.85" width="1.48" height="8.55" fill="#da9a24" stroke="#a8761c" stroke-width="0.35"/>
<rect x="220.00" y="311.64" width="1.48" height="6.56" fill="#e2e2e2" stroke="#9a9a9a" stroke-width="0.35"/>
<rect x="221.85" y="250.05" width="1.48" height="1.35" fill="#da9a24" stroke="#a8761c" stroke-width="0.35"/>
<rect x="221.85" y="317.11" width="1.48" height="1.09" fill="#e2e2e2" stroke="#9a9a9a" stroke-width="0.35"/>
<rect x="223.69" y="248.70" width="1.48" height="2.70" fill="#da9a24" stroke="#a8761c" stroke-width="0.35"/>
<rect x="223.69" y="316.56" width="1.48" height="1.64" fill="#e2e2e2" stroke="#9a9a9a" stroke-width="0.35"/>
<rect x="225.54" y="246.45" width="1.48" height="4.95" fill="#da9a24" stroke="#a8761c" stroke-width="0.35"/>
<rect x="225.54" y="311.09" width="1.48" height="7.11" fill="#e2e2e2" stroke="#9a9a9a" stroke-width="0.35"/>
<rect x="227.38" y="251.40" width="1.48" height="0.90" fill="#c9d7e8" stroke="#8a9bb0" stroke-width="0.35"/>
<rect x="227.38" y="313.82" width="1.48" height="4.38" fill="#e2e2e2" stroke="#9a9a9a" stroke-width="0.35"/>
<rect x="229.23" y="251.40" width="1.48" height="16.43" fill="#c9d7e8" stroke="#8a9bb0" stroke-width="0.35"/>
<rect x="229.23" y="311.09" width="1.48" height="7.11" fill="#e2e2e2" stroke="#9a9a9a" stroke-width="0.35"/>
<rect x="231.07" y="251.40" width="1.48" height="4.50" fill="#c9d7e8" stroke="#8a9bb0" stroke-width="0.35"/>
<rect x="231.07" y="316.56" width="1.48" height="1.64" fill="#e2e2e2" stroke="#9a9a9a" stroke-width="0.35"/>
<rect x="232.92" y="250.50" width="1.48" height="0.90" fill="#da9a24" stroke="#a8761c" stroke-width="0.35"/>
<rect x="232.92" y="313.82" width="1.48" height="4.38" fill="#e2e2e2" stroke="#9a9a9a" stroke-width="0.35"/>
<rect x="234.76" y="251.18" width="1.48" height="0.23" fill="#da9a24" stroke="#a8761c" stroke-width="0.35"/>
<rect x="234.76" y="314.37" width="1.48" height="3.83" fill="#e2e2e2" stroke="#9a9a9a" stroke-width="0.35"/>
<rect x="236.61" y="250.50" width="1.48" height="0.90" fill="#da9a24" stroke="#a8761c" stroke-width="0.35"/>
<rect x="236.61" y="317.11" width="1.48" height="1.09" fill="#e2e2e2" stroke="#9a9a9a" stroke-width="0.35"/>
<rect x="238.45" y="247.80" width="1.48" height="3.60" fill="#da9a24" stroke="#a8761c" stroke-width="0.35"/>
<rect x="238.45" y="303.98" width="1.48" height="14.22" fill="#a82e2e" stroke="#6e1414" stroke-width="0.35"/>
<rect x="240.30" y="251.40" width="1.48" height="2.70" fill="#c9d7e8" stroke="#8a9bb0" stroke-width="0.35"/>
<rect x="240.30" y="306.17" width="1.48" height="12.03" fill="#a82e2e" stroke="#6e1414" stroke-width="0.35"/>
<rect x="242.14" y="250.05" width="1.48" height="1.35" fill="#da9a24" stroke="#a8761c" stroke-width="0.35"/>
<rect x="242.14" y="316.56" width="1.48" height="1.64" fill="#e2e2e2" stroke="#9a9a9a" stroke-width="0.35"/>
<rect x="243.99" y="249.60" width="1.48" height="1.80" fill="#da9a24" stroke="#a8761c" stroke-width="0.35"/>
<rect x="243.99" y="313.00" width="1.48" height="5.20" fill="#e2e2e2" stroke="#9a9a9a" stroke-width="0.35"/>
<rect x="245.83" y="249.15" width="1.48" height="2.25" fill="#da9a24" stroke="#a8761c" stroke-width="0.35"/>
<rect x="245.83" y="317.11" width="1.48" height="1.09" fill="#e2e2e2" stroke="#9a9a9a" stroke-width="0.35"/>
<rect x="247.68" y="246.00" width="1.48" height="5.40" fill="#da9a24" stroke="#a8761c" stroke-width="0.35"/>
<rect x="247.68" y="310.00" width="1.48" height="8.21" fill="#a82e2e" stroke="#6e1414" stroke-width="0.35"/>
<rect x="249.53" y="251.18" width="1.48" height="0.23" fill="#da9a24" stroke="#a8761c" stroke-width="0.35"/>
<rect x="249.53" y="317.11" width="1.48" height="1.09" fill="#e2e2e2" stroke="#9a9a9a" stroke-width="0.35"/>
<rect x="251.37" y="251.40" width="1.48" height="5.40" fill="#c9d7e8" stroke="#8a9bb0" stroke-width="0.35"/>
<rect x="251.37" y="309.72" width="1.48" height="8.48" fill="#a82e2e" stroke="#6e1414" stroke-width="0.35"/>
<rect x="253.22" y="251.40" width="1.48" height="0.90" fill="#c9d7e8" stroke="#8a9bb0" stroke-width="0.35"/>
<rect x="253.22" y="308.90" width="1.48" height="9.30" fill="#a82e2e" stroke="#6e1414" stroke-width="0.35"/>
<rect x="255.06" y="251.40" width="1.48" height="4.95" fill="#c9d7e8" stroke="#8a9bb0" stroke-width="0.35"/>
<rect x="255.06" y="317.11" width="1.48" height="1.09" fill="#e2e2e2" stroke="#9a9a9a" stroke-width="0.35"/>
<rect x="256.91" y="251.18" width="1.48" height="0.23" fill="#da9a24" stroke="#a8761c" stroke-width="0.35"/>
<rect x="256.91" y="316.56" width="1.48" height="1.64" fill="#e2e2e2" stroke="#9a9a9a" stroke-width="0.35"/>
<rect x="258.75" y="246.00" width="1.48" height="5.40" fill="#da9a24" stroke="#a8761c" stroke-width="0.35"/>
<rect x="258.75" y="312.73" width="1.48" height="5.47" fill="#e2e2e2" stroke="#9a9a9a" stroke-width="0.35"/>
<rect x="260.60" y="251.18" width="1.48" height="0.23" fill="#da9a24" stroke="#a8761c" stroke-width="0.35"/>
<rect x="260.60" y="315.46" width="1.48" height="2.73" fill="#e2e2e2" stroke="#9a9a9a" stroke-width="0.35"/>
<rect x="262.44" y="246.90" width="1.48" height="4.50" fill="#da9a24" stroke="#a8761c" stroke-width="0.35"/>
<rect x="262.44" y="308.35" width="1.48" height="9.85" fill="#a82e2e" stroke="#6e1414" stroke-width="0.35"/>
<rect x="264.29" y="250.95" width="1.48" height="0.45" fill="#da9a24" stroke="#a8761c" stroke-width="0.35"/>
<rect x="264.29" y="317.11" width="1.48" height="1.09" fill="#e2e2e2" stroke="#9a9a9a" stroke-width="0.35"/>
<rect x="266.13" y="251.18" width="1.48" height="0.23" fill="#da9a24" stroke="#a8761c" stroke-width="0.35"/>
<rect x="266.13" y="316.56" width="1.48" height="1.64" fill="#e2e2e2" stroke="#9a9a9a" stroke-width="0.35"/>
<rect x="267.98" y="251.40" width="1.48" height="1.35" fill="#c9d7e8" stroke="#8a9bb0" stroke-width="0.35"/>
<rect x="267.98" y="311.64" width="1.48" height="6.56" fill="#e2e2e2" stroke="#9a9a9a" stroke-width="0.35"/>
<rect x="269.82" y="251.18" width="1.48" height="0.23" fill="#da9a24" stroke="#a8761c" stroke-width="0.35"/>
<rect x="269.82" y="317.11" width="1.48" height="1.09" fill="#e2e2e2" stroke="#9a9a9a" stroke-width="0.35"/>
<rect x="271.67" y="246.00" width="1.48" height="5.40" fill="#da9a24" stroke="#a8761c" stroke-width="0.35"/>
<rect x="271.67" y="314.92" width="1.48" height="3.28" fill="#e2e2e2" stroke="#9a9a9a" stroke-width="0.35"/>
<rect x="273.52" y="247.35" width="1.48" height="4.05" fill="#da9a24" stroke="#a8761c" stroke-width="0.35"/>
<rect x="273.52" y="315.46" width="1.48" height="2.73" fill="#e2e2e2" stroke="#9a9a9a" stroke-width="0.35"/>
<rect x="275.36" y="247.80" width="1.48" height="3.60" fill="#da9a24" stroke="#a8761c" stroke-width="0.35"/>
<rect x="275.36" y="310.27" width="1.48" height="7.93" fill="#a82e2e" stroke="#6e1414" stroke-width="0.35"/>
<rect x="277.21" y="248.25" width="1.48" height="3.15" fill="#da9a24" stroke="#a8761c" stroke-width="0.35"/>
<rect x="277.21" y="309.45" width="1.48" height="8.75" fill="#a82e2e" stroke="#6e1414" stroke-width="0.35"/>
<rect x="279.05" y="247.35" width="1.48" height="4.05" fill="#da9a24" stroke="#a8761c" stroke-width="0.35"/>
<rect x="279.05" y="313.00" width="1.48" height="5.20" fill="#e2e2e2" stroke="#9a9a9a" stroke-width="0.35"/>
<rect x="280.90" y="248.25" width="1.48" height="3.15" fill="#da9a24" stroke="#a8761c" stroke-width="0.35"/>
<rect x="280.90" y="313.00" width="1.48" height="5.20" fill="#e2e2e2" stroke="#9a9a9a" stroke-width="0.35"/>
<rect x="282.74" y="249.15" width="1.48" height="2.25" fill="#da9a24" stroke="#a8761c" stroke-width="0.35"/>
<rect x="282.74" y="313.28" width="1.48" height="4.92" fill="#e2e2e2" stroke="#9a9a9a" stroke-width="0.35"/>
<rect x="284.59" y="251.40" width="1.48" height="1.35" fill="#c9d7e8" stroke="#8a9bb0" stroke-width="0.35"/>
<rect x="284.59" y="317.11" width="1.48" height="1.09" fill="#e2e2e2" stroke="#9a9a9a" stroke-width="0.35"/>
<rect x="286.43" y="251.40" width="1.48" height="19.35" fill="#c9d7e8" stroke="#8a9bb0" stroke-width="0.35"/>
<rect x="286.43" y="303.98" width="1.48" height="14.22" fill="#a82e2e" stroke="#6e1414" stroke-width="0.35"/>
<rect x="288.28" y="251.18" width="1.48" height="0.23" fill="#da9a24" stroke="#a8761c" stroke-width="0.35"/>
<rect x="288.28" y="317.11" width="1.48" height="1.09" fill="#e2e2e2" stroke="#9a9a9a" stroke-width="0.35"/>
<rect x="290.12" y="250.50" width="1.48" height="0.90" fill="#da9a24" stroke="#a8761c" stroke-width="0.35"/>
<rect x="290.12" y="313.00" width="1.48" height="5.20" fill="#e2e2e2" stroke="#9a9a9a" stroke-width="0.35"/>
<rect x="291.97" y="251.40" width="1.48" height="2.70" fill="#c9d7e8" stroke="#8a9bb0" stroke-width="0.35"/>
<rect x="291.97" y="317.11" width="1.48" height="1.09" fill="#e2e2e2" stroke="#9a9a9a" stroke-width="0.35"/>
<rect x="293.81" y="248.70" width="1.48" height="2.70" fill="#da9a24" stroke="#a8761c" stroke-width="0.35"/>
<rect x="293.81" y="310.27" width="1.48" height="7.93" fill="#a82e2e" stroke="#6e1414" stroke-width="0.35"/>
<rect x="295.66" y="251.40" width="1.48" height="3.38" fill="#c9d7e8" stroke="#8a9bb0" stroke-width="0.35"/>
<rect x="295.66" y="316.56" width="1.48" height="1.64" fill="#e2e2e2" stroke="#9a9a9a" stroke-width="0.35"/>
<rect x="297.50" y="251.40" width="1.48" height="5.40" fill="#c9d7e8" stroke="#8a9bb0" stroke-width="0.35"/>
<rect x="297.50" y="312.18" width="1.48" height="6.02" fill="#e2e2e2" stroke="#9a9a9a" stroke-width="0.35"/>
<rect x="299.35" y="251.18" width="1.48" height="0.23" fill="#da9a24" stroke="#a8761c" stroke-width="0.35"/>
<rect x="299.35" y="312.18" width="1.48" height="6.02" fill="#e2e2e2" stroke="#9a9a9a" stroke-width="0.35"/>
<rect x="301.20" y="250.50" width="1.48" height="0.90" fill="#da9a24" stroke="#a8761c" stroke-width="0.35"/>
<rect x="301.20" y="315.46" width="1.48" height="2.73" fill="#e2e2e2" stroke="#9a9a9a" stroke-width="0.35"/>
<rect x="303.04" y="251.18" width="1.48" height="0.23" fill="#da9a24" stroke="#a8761c" stroke-width="0.35"/>
<rect x="303.04" y="317.11" width="1.48" height="1.09" fill="#e2e2e2" stroke="#9a9a9a" stroke-width="0.35"/>
<rect x="304.89" y="251.18" width="1.48" height="0.23" fill="#da9a24" stroke="#a8761c" stroke-width="0.35"/>
<rect x="304.89" y="317.11" width="1.48" height="1.09" fill="#e2e2e2" stroke="#9a9a9a" stroke-width="0.35"/>
<rect x="306.73" y="250.50" width="1.48" height="0.90" fill="#da9a24" stroke="#a8761c" stroke-width="0.35"/>
<rect x="306.73" y="313.55" width="1.48" height="4.65" fill="#e2e2e2" stroke="#9a9a9a" stroke-width="0.35"/>
<rect x="308.58" y="251.40" width="1.48" height="4.50" fill="#c9d7e8" stroke="#8a9bb0" stroke-width="0.35"/>
<rect x="308.58" y="316.01" width="1.48" height="2.19" fill="#e2e2e2" stroke="#9a9a9a" stroke-width="0.35"/>
<rect x="310.42" y="250.50" width="1.48" height="0.90" fill="#da9a24" stroke="#a8761c" stroke-width="0.35"/>
<rect x="310.42" y="316.56" width="1.48" height="1.64" fill="#e2e2e2" stroke="#9a9a9a" stroke-width="0.35"/>
<rect x="312.27" y="251.18" width="1.48" height="0.23" fill="#da9a24" stroke="#a8761c" stroke-width="0.35"/>
<rect x="312.27" y="308.08" width="1.48" height="10.12" fill="#a82e2e" stroke="#6e1414" stroke-width="0.35"/>
<rect x="314.11" y="251.40" width="1.48" height="7.88" fill="#c9d7e8" stroke="#8a9bb0" stroke-width="0.35"/>
<rect x="314.11" y="305.35" width="1.48" height="12.85" fill="#a82e2e" stroke="#6e1414" stroke-width="0.35"/>
<rect x="315.96" y="251.40" width="1.48" height="1.35" fill="#c9d7e8" stroke="#8a9bb0" stroke-width="0.35"/>
<rect x="315.96" y="314.92" width="1.48" height="3.28" fill="#e2e2e2" stroke="#9a9a9a" stroke-width="0.35"/>
<rect x="317.80" y="251.40" width="1.48" height="1.80" fill="#c9d7e8" stroke="#8a9bb0" stroke-width="0.35"/>
<rect x="317.80" y="317.11" width="1.48" height="1.09" fill="#e2e2e2" stroke="#9a9a9a" stroke-width="0.35"/>
<rect x="319.65" y="251.18" width="1.48" height="0.23" fill="#da9a24" stroke="#a8761c" stroke-width="0.35"/>
<rect x="319.65" y="317.11" width="1.48" height="1.09" fill="#e2e2e2" stroke="#9a9a9a" stroke-width="0.35"/>
<rect x="321.49" y="251.40" width="1.48" height="19.80" fill="#c9d7e8" stroke="#8a9bb0" stroke-width="0.35"/>
<rect x="321.49" y="303.98" width="1.48" height="14.22" fill="#a82e2e" stroke="#6e1414" stroke-width="0.35"/>
<rect x="323.34" y="251.18" width="1.48" height="0.23" fill="#da9a24" stroke="#a8761c" stroke-width="0.35"/>
<rect x="323.34" y="311.36" width="1.48" height="6.84" fill="#e2e2e2" stroke="#9a9a9a" stroke-width="0.35"/>
<rect x="325.19" y="250.72" width="1.48" height="0.67" fill="#da9a24" stroke="#a8761c" stroke-width="0.35"/>
<rect x="325.19" y="308.63" width="1.48" height="9.57" fill="#a82e2e" stroke="#6e1414" stroke-width="0.35"/>
<rect x="327.03" y="251.18" width="1.48" height="0.23" fill="#da9a24" stroke="#a8761c" stroke-width="0.35"/>
<rect x="327.03" y="315.46" width="1.48" height="2.73" fill="#e2e2e2" stroke="#9a9a9a" stroke-width="0.35"/>
<rect x="328.88" y="251.40" width="1.48" height="1.35" fill="#c9d7e8" stroke="#8a9bb0" stroke-width="0.35"/>
<rect x="328.88" y="314.92" width="1.48" height="3.28" fill="#e2e2e2" stroke="#9a9a9a" stroke-width="0.35"/>
<rect x="330.72" y="251.40" width="1.48" height="14.40" fill="#c9d7e8" stroke="#8a9bb0" stroke-width="0.35"/>
<rect x="330.72" y="303.98" width="1.48" height="14.22" fill="#a82e2e" stroke="#6e1414" stroke-width="0.35"/>
<rect x="332.57" y="251.18" width="1.48" height="0.23" fill="#da9a24" stroke="#a8761c" stroke-width="0.35"/>
<rect x="332.57" y="313.82" width="1.48" height="4.38" fill="#e2e2e2" stroke="#9a9a9a" stroke-width="0.35"/>
<rect x="334.41" y="251.40" width="1.48" height="0.45" fill="#c9d7e8" stroke="#8a9bb0" stroke-width="0.35"/>
<rect x="334.41" y="315.46" width="1.48" height="2.73" fill="#e2e2e2" stroke="#9a9a9a" stroke-width="0.35"/>
<rect x="336.26" y="315.46" width="1.48" height="2.73" fill="#e2e2e2" stroke="#9a9a9a" stroke-width="0.35"/>
<rect x="338.10" y="312.18" width="1.48" height="6.02" fill="#e2e2e2" stroke="#9a9a9a" stroke-width="0.35"/>
<rect x="339.95" y="251.40" width="1.48" height="4.50" fill="#c9d7e8" stroke="#8a9bb0" stroke-width="0.35"/>
<rect x="339.95" y="305.35" width="1.48" height="12.85" fill="#a82e2e" stroke="#6e1414" stroke-width="0.35"/>
<rect x="341.79" y="306.17" width="1.48" height="12.03" fill="#a82e2e" stroke="#6e1414" stroke-width="0.35"/>
<rect x="343.64" y="313.00" width="1.48" height="5.20" fill="#e2e2e2" stroke="#9a9a9a" stroke-width="0.35"/>
<rect x="345.48" y="314.92" width="1.48" height="3.28" fill="#e2e2e2" stroke="#9a9a9a" stroke-width="0.35"/>
<rect x="347.33" y="315.08" width="1.48" height="3.12" fill="#e2e2e2" stroke="#9a9a9a" stroke-width="0.35"/>
<rect x="349.17" y="251.40" width="1.48" height="2.70" fill="#c9d7e8" stroke="#8a9bb0" stroke-width="0.35"/>
<rect x="349.17" y="315.24" width="1.48" height="2.96" fill="#e2e2e2" stroke="#9a9a9a" stroke-width="0.35"/>
<rect x="351.02" y="315.40" width="1.48" height="2.80" fill="#e2e2e2" stroke="#9a9a9a" stroke-width="0.35"/>
<rect x="352.87" y="315.56" width="1.48" height="2.64" fill="#e2e2e2" stroke="#9a9a9a" stroke-width="0.35"/>
<rect x="354.71" y="315.72" width="1.48" height="2.48" fill="#e2e2e2" stroke="#9a9a9a" stroke-width="0.35"/>
<rect x="356.56" y="315.88" width="1.48" height="2.32" fill="#e2e2e2" stroke="#9a9a9a" stroke-width="0.35"/>
<rect x="358.40" y="316.04" width="1.48" height="2.16" fill="#e2e2e2" stroke="#9a9a9a" stroke-width="0.35"/>
<rect x="360.25" y="316.21" width="1.48" height="1.99" fill="#e2e2e2" stroke="#9a9a9a" stroke-width="0.35"/>
<rect x="362.09" y="316.37" width="1.48" height="1.83" fill="#e2e2e2" stroke="#9a9a9a" stroke-width="0.35"/>
<rect x="363.94" y="316.53" width="1.48" height="1.67" fill="#e2e2e2" stroke="#9a9a9a" stroke-width="0.35"/>
<rect x="365.78" y="316.69" width="1.48" height="1.51" fill="#e2e2e2" stroke="#9a9a9a" stroke-width="0.35"/>
<rect x="367.63" y="316.85" width="1.48" height="1.35" fill="#e2e2e2" stroke="#9a9a9a" stroke-width="0.35"/>
<rect x="369.47" y="251.40" width="1.48" height="5.85" fill="#c9d7e8" stroke="#8a9bb0" stroke-width="0.35"/>
<rect x="369.47" y="317.01" width="1.48" height="1.19" fill="#e2e2e2" stroke="#9a9a9a" stroke-width="0.35"/>
<rect x="371.32" y="317.17" width="1.48" height="1.03" fill="#e2e2e2" stroke="#9a9a9a" stroke-width="0.35"/>
<rect x="373.16" y="317.33" width="1.48" height="0.87" fill="#e2e2e2" stroke="#9a9a9a" stroke-width="0.35"/>
<rect x="375.01" y="317.49" width="1.48" height="0.71" fill="#e2e2e2" stroke="#9a9a9a" stroke-width="0.35"/>
<rect x="376.86" y="317.65" width="1.48" height="0.55" fill="#e2e2e2" stroke="#9a9a9a" stroke-width="0.35"/>
<rect x="378.70" y="251.40" width="1.48" height="1.35" fill="#c9d7e8" stroke="#8a9bb0" stroke-width="0.35"/>
<rect x="378.70" y="299.60" width="1.48" height="18.60" fill="#a82e2e" stroke="#6e1414" stroke-width="0.35"/>
<rect x="380.55" y="307.53" width="1.48" height="10.67" fill="#a82e2e" stroke="#6e1414" stroke-width="0.35"/>
<rect x="382.39" y="251.40" width="1.48" height="1.35" fill="#c9d7e8" stroke="#8a9bb0" stroke-width="0.35"/>
<rect x="382.39" y="307.53" width="1.48" height="10.67" fill="#a82e2e" stroke="#6e1414" stroke-width="0.35"/>
<rect x="384.24" y="309.45" width="1.48" height="8.75" fill="#a82e2e" stroke="#6e1414" stroke-width="0.35"/>
<rect x="386.08" y="309.72" width="1.48" height="8.48" fill="#a82e2e" stroke="#6e1414" stroke-width="0.35"/>
<rect x="387.93" y="310.00" width="1.48" height="8.21" fill="#a82e2e" stroke="#6e1414" stroke-width="0.35"/>
<rect x="389.77" y="310.00" width="1.48" height="8.21" fill="#a82e2e" stroke="#6e1414" stroke-width="0.35"/>
<rect x="391.62" y="310.27" width="1.48" height="7.93" fill="#a82e2e" stroke="#6e1414" stroke-width="0.35"/>
<rect x="393.46" y="251.40" width="1.48" height="0.90" fill="#c9d7e8" stroke="#8a9bb0" stroke-width="0.35"/>
<rect x="393.46" y="311.64" width="1.48" height="6.56" fill="#e2e2e2" stroke="#9a9a9a" stroke-width="0.35"/>
<rect x="395.31" y="311.79" width="1.48" height="6.41" fill="#e2e2e2" stroke="#9a9a9a" stroke-width="0.35"/>
<rect x="397.15" y="311.94" width="1.48" height="6.26" fill="#e2e2e2" stroke="#9a9a9a" stroke-width="0.35"/>
<rect x="399.00" y="312.09" width="1.48" height="6.11" fill="#e2e2e2" stroke="#9a9a9a" stroke-width="0.35"/>
<rect x="400.84" y="251.40" width="1.48" height="0.90" fill="#c9d7e8" stroke="#8a9bb0" stroke-width="0.35"/>
<rect x="400.84" y="312.24" width="1.48" height="5.96" fill="#e2e2e2" stroke="#9a9a9a" stroke-width="0.35"/>
<rect x="402.69" y="312.39" width="1.48" height="5.81" fill="#e2e2e2" stroke="#9a9a9a" stroke-width="0.35"/>
<rect x="404.54" y="312.54" width="1.48" height="5.66" fill="#e2e2e2" stroke="#9a9a9a" stroke-width="0.35"/>
<rect x="406.38" y="312.69" width="1.48" height="5.51" fill="#e2e2e2" stroke="#9a9a9a" stroke-width="0.35"/>
<rect x="408.23" y="312.84" width="1.48" height="5.36" fill="#e2e2e2" stroke="#9a9a9a" stroke-width="0.35"/>
<rect x="410.07" y="312.99" width="1.48" height="5.21" fill="#e2e2e2" stroke="#9a9a9a" stroke-width="0.35"/>
<rect x="411.92" y="313.14" width="1.48" height="5.06" fill="#e2e2e2" stroke="#9a9a9a" stroke-width="0.35"/>
<rect x="413.76" y="313.29" width="1.48" height="4.91" fill="#e2e2e2" stroke="#9a9a9a" stroke-width="0.35"/>
<rect x="415.61" y="313.44" width="1.48" height="4.76" fill="#e2e2e2" stroke="#9a9a9a" stroke-width="0.35"/>
<rect x="417.45" y="313.59" width="1.48" height="4.61" fill="#e2e2e2" stroke="#9a9a9a" stroke-width="0.35"/>
<rect x="419.30" y="313.74" width="1.48" height="4.46" fill="#e2e2e2" stroke="#9a9a9a" stroke-width="0.35"/>
<rect x="421.14" y="313.89" width="1.48" height="4.31" fill="#e2e2e2" stroke="#9a9a9a" stroke-width="0.35"/>
<rect x="422.99" y="314.04" width="1.48" height="4.16" fill="#e2e2e2" stroke="#9a9a9a" stroke-width="0.35"/>
<rect x="424.83" y="314.19" width="1.48" height="4.01" fill="#e2e2e2" stroke="#9a9a9a" stroke-width="0.35"/>
<rect x="426.68" y="314.34" width="1.48" height="3.86" fill="#e2e2e2" stroke="#9a9a9a" stroke-width="0.35"/>
<rect x="428.52" y="314.49" width="1.48" height="3.71" fill="#e2e2e2" stroke="#9a9a9a" stroke-width="0.35"/>
<rect x="430.37" y="314.64" width="1.48" height="3.56" fill="#e2e2e2" stroke="#9a9a9a" stroke-width="0.35"/>
<rect x="432.22" y="314.79" width="1.48" height="3.41" fill="#e2e2e2" stroke="#9a9a9a" stroke-width="0.35"/>
<rect x="434.06" y="314.95" width="1.48" height="3.25" fill="#e2e2e2" stroke="#9a9a9a" stroke-width="0.35"/>
<rect x="435.91" y="315.10" width="1.48" height="3.10" fill="#e2e2e2" stroke="#9a9a9a" stroke-width="0.35"/>
<rect x="437.75" y="315.25" width="1.48" height="2.95" fill="#e2e2e2" stroke="#9a9a9a" stroke-width="0.35"/>
<rect x="439.60" y="315.40" width="1.48" height="2.80" fill="#e2e2e2" stroke="#9a9a9a" stroke-width="0.35"/>
<rect x="441.44" y="315.55" width="1.48" height="2.65" fill="#e2e2e2" stroke="#9a9a9a" stroke-width="0.35"/>
<rect x="443.29" y="315.70" width="1.48" height="2.50" fill="#e2e2e2" stroke="#9a9a9a" stroke-width="0.35"/>
<rect x="445.13" y="315.85" width="1.48" height="2.35" fill="#e2e2e2" stroke="#9a9a9a" stroke-width="0.35"/>
<rect x="446.98" y="316.00" width="1.48" height="2.20" fill="#e2e2e2" stroke="#9a9a9a" stroke-width="0.35"/>
<rect x="448.82" y="316.15" width="1.48" height="2.05" fill="#e2e2e2" stroke="#9a9a9a" stroke-width="0.35"/>
<rect x="450.67" y="316.30" width="1.48" height="1.90" fill="#e2e2e2" stroke="#9a9a9a" stroke-width="0.35"/>
<rect x="452.51" y="316.45" width="1.48" height="1.75" fill="#e2e2e2" stroke="#9a9a9a" stroke-width="0.35"/>
<rect x="454.36" y="316.60" width="1.48" height="1.60" fill="#e2e2e2" stroke="#9a9a9a" stroke-width="0.35"/>
<rect x="456.21" y="316.75" width="1.48" height="1.45" fill="#e2e2e2" stroke="#9a9a9a" stroke-width="0.35"/>
<rect x="458.05" y="316.90" width="1.48" height="1.30" fill="#e2e2e2" stroke="#9a9a9a" stroke-width="0.35"/>
<rect x="459.90" y="317.05" width="1.48" height="1.15" fill="#e2e2e2" stroke="#9a9a9a" stroke-width="0.35"/>
<rect x="461.74" y="317.20" width="1.48" height="1.00" fill="#e2e2e2" stroke="#9a9a9a" stroke-width="0.35"/>
<rect x="463.59" y="317.35" width="1.48" height="0.85" fill="#e2e2e2" stroke="#9a9a9a" stroke-width="0.35"/>
<rect x="465.43" y="317.50" width="1.48" height="0.70" fill="#e2e2e2" stroke="#9a9a9a" stroke-width="0.35"/>
<rect x="467.28" y="317.65" width="1.48" height="0.55" fill="#e2e2e2" stroke="#9a9a9a" stroke-width="0.35"/>
<circle cx="50.53" cy="225.50" r="1.85" fill="#999999" stroke="#454545" stroke-width="0.55"/>
<circle cx="52.38" cy="224.68" r="1.85" fill="#999999" stroke="#454545" stroke-width="0.55"/>
<circle cx="54.24" cy="223.86" r="1.85" fill="#999999" stroke="#454545" stroke-width="0.55"/>
<circle cx="56.09" cy="223.16" r="1.85" fill="#999999" stroke="#454545" stroke-width="0.55"/>
<circle cx="57.95" cy="222.74" r="1.85" fill="#999999" stroke="#454545" stroke-width="0.55"/>
<circle cx="59.80" cy="222.41" r="1.85" fill="#999999" stroke="#454545" stroke-width="0.55"/>
<circle cx="61.65" cy="222.20" r="1.85" fill="#999999" stroke="#454545" stroke-width="0.55"/>
<circle cx="63.51" cy="221.93" r="1.85" fill="#999999" stroke="#454545" stroke-width="0.55"/>
<circle cx="65.36" cy="220.78" r="1.85" fill="#999999" stroke="#454545" stroke-width="0.55"/>
<circle cx="67.22" cy="220.33" r="1.85" fill="#999999" stroke="#454545" stroke-width="0.55"/>
<circle cx="69.07" cy="219.88" r="1.85" fill="#999999" stroke="#454545" stroke-width="0.55"/>
<circle cx="78.94" cy="218.74" r="1.85" fill="#999999" stroke="#454545" stroke-width="0.55"/>
<circle cx="80.83" cy="216.19" r="1.85" fill="#999999" stroke="#454545" stroke-width="0.55"/>
<circle cx="82.72" cy="213.33" r="1.85" fill="#999999" stroke="#454545" stroke-width="0.55"/>
<circle cx="84.61" cy="211.40" r="1.85" fill="#999999" stroke="#454545" stroke-width="0.55"/>
<circle cx="86.50" cy="209.80" r="1.85" fill="#999999" stroke="#454545" stroke-width="0.55"/>
<circle cx="88.39" cy="208.73" r="1.85" fill="#999999" stroke="#454545" stroke-width="0.55"/>
<circle cx="90.28" cy="207.66" r="1.85" fill="#999999" stroke="#454545" stroke-width="0.55"/>
<circle cx="92.17" cy="206.80" r="1.85" fill="#999999" stroke="#454545" stroke-width="0.55"/>
<circle cx="94.06" cy="205.94" r="1.85" fill="#999999" stroke="#454545" stroke-width="0.55"/>
<circle cx="103.92" cy="204.75" r="1.85" fill="#999999" stroke="#454545" stroke-width="0.55"/>
<circle cx="105.75" cy="204.20" r="1.85" fill="#999999" stroke="#454545" stroke-width="0.55"/>
<circle cx="107.59" cy="203.65" r="1.85" fill="#999999" stroke="#454545" stroke-width="0.55"/>
<circle cx="109.43" cy="203.10" r="1.85" fill="#999999" stroke="#454545" stroke-width="0.55"/>
<circle cx="111.27" cy="201.84" r="1.85" fill="#999999" stroke="#454545" stroke-width="0.55"/>
<circle cx="113.10" cy="200.16" r="1.85" fill="#999999" stroke="#454545" stroke-width="0.55"/>
<circle cx="114.94" cy="199.63" r="1.85" fill="#999999" stroke="#454545" stroke-width="0.55"/>
<circle cx="116.78" cy="199.42" r="1.85" fill="#999999" stroke="#454545" stroke-width="0.55"/>
<circle cx="118.61" cy="199.21" r="1.85" fill="#999999" stroke="#454545" stroke-width="0.55"/>
<circle cx="120.45" cy="199.00" r="1.85" fill="#999999" stroke="#454545" stroke-width="0.55"/>
<circle cx="122.28" cy="198.76" r="1.85" fill="#999999" stroke="#454545" stroke-width="0.55"/>
<circle cx="124.12" cy="197.82" r="1.85" fill="#999999" stroke="#454545" stroke-width="0.55"/>
<circle cx="125.96" cy="196.88" r="1.85" fill="#999999" stroke="#454545" stroke-width="0.55"/>
<circle cx="127.80" cy="196.45" r="1.85" fill="#999999" stroke="#454545" stroke-width="0.55"/>
<circle cx="129.63" cy="196.15" r="1.85" fill="#999999" stroke="#454545" stroke-width="0.55"/>
<circle cx="131.47" cy="195.85" r="1.85" fill="#999999" stroke="#454545" stroke-width="0.55"/>
<circle cx="133.31" cy="195.54" r="1.85" fill="#999999" stroke="#454545" stroke-width="0.55"/>
<circle cx="135.14" cy="195.20" r="1.85" fill="#999999" stroke="#454545" stroke-width="0.55"/>
<circle cx="136.98" cy="194.86" r="1.85" fill="#999999" stroke="#454545" stroke-width="0.55"/>
<circle cx="138.81" cy="194.53" r="1.85" fill="#999999" stroke="#454545" stroke-width="0.55"/>
<circle cx="140.65" cy="194.20" r="1.85" fill="#999999" stroke="#454545" stroke-width="0.55"/>
<circle cx="142.49" cy="193.87" r="1.85" fill="#999999" stroke="#454545" stroke-width="0.55"/>
<circle cx="144.32" cy="193.54" r="1.85" fill="#999999" stroke="#454545" stroke-width="0.55"/>
<circle cx="146.16" cy="193.16" r="1.85" fill="#999999" stroke="#454545" stroke-width="0.55"/>
<circle cx="148.00" cy="192.76" r="1.85" fill="#999999" stroke="#454545" stroke-width="0.55"/>
<circle cx="149.83" cy="192.35" r="1.85" fill="#999999" stroke="#454545" stroke-width="0.55"/>
<circle cx="151.67" cy="192.11" r="1.85" fill="#999999" stroke="#454545" stroke-width="0.55"/>
<circle cx="153.51" cy="191.98" r="1.85" fill="#999999" stroke="#454545" stroke-width="0.55"/>
<circle cx="155.34" cy="191.84" r="1.85" fill="#999999" stroke="#454545" stroke-width="0.55"/>
<circle cx="157.18" cy="191.70" r="1.85" fill="#999999" stroke="#454545" stroke-width="0.55"/>
<circle cx="167.22" cy="190.91" r="1.85" fill="#999999" stroke="#454545" stroke-width="0.55"/>
<circle cx="169.07" cy="190.70" r="1.85" fill="#999999" stroke="#454545" stroke-width="0.55"/>
<circle cx="170.91" cy="190.49" r="1.85" fill="#999999" stroke="#454545" stroke-width="0.55"/>
<circle cx="172.76" cy="190.28" r="1.85" fill="#999999" stroke="#454545" stroke-width="0.55"/>
<circle cx="174.60" cy="190.07" r="1.85" fill="#999999" stroke="#454545" stroke-width="0.55"/>
<circle cx="176.45" cy="189.86" r="1.85" fill="#999999" stroke="#454545" stroke-width="0.55"/>
<circle cx="178.29" cy="189.65" r="1.85" fill="#999999" stroke="#454545" stroke-width="0.55"/>
<circle cx="180.14" cy="189.45" r="1.85" fill="#999999" stroke="#454545" stroke-width="0.55"/>
<circle cx="181.99" cy="189.24" r="1.85" fill="#999999" stroke="#454545" stroke-width="0.55"/>
<circle cx="183.83" cy="189.03" r="1.85" fill="#999999" stroke="#454545" stroke-width="0.55"/>
<circle cx="185.68" cy="188.82" r="1.85" fill="#999999" stroke="#454545" stroke-width="0.55"/>
<circle cx="187.52" cy="188.61" r="1.85" fill="#999999" stroke="#454545" stroke-width="0.55"/>
<circle cx="189.37" cy="188.40" r="1.85" fill="#999999" stroke="#454545" stroke-width="0.55"/>
<circle cx="191.21" cy="188.19" r="1.85" fill="#999999" stroke="#454545" stroke-width="0.55"/>
<circle cx="193.06" cy="187.99" r="1.85" fill="#999999" stroke="#454545" stroke-width="0.55"/>
<circle cx="194.90" cy="187.78" r="1.85" fill="#999999" stroke="#454545" stroke-width="0.55"/>
<circle cx="196.75" cy="187.57" r="1.85" fill="#999999" stroke="#454545" stroke-width="0.55"/>
<circle cx="198.59" cy="187.36" r="1.85" fill="#999999" stroke="#454545" stroke-width="0.55"/>
<circle cx="200.44" cy="187.15" r="1.85" fill="#999999" stroke="#454545" stroke-width="0.55"/>
<circle cx="202.28" cy="186.95" r="1.85" fill="#999999" stroke="#454545" stroke-width="0.55"/>
<circle cx="204.13" cy="186.74" r="1.85" fill="#999999" stroke="#454545" stroke-width="0.55"/>
<circle cx="205.98" cy="186.54" r="1.85" fill="#999999" stroke="#454545" stroke-width="0.55"/>
<circle cx="207.82" cy="186.33" r="1.85" fill="#999999" stroke="#454545" stroke-width="0.55"/>
<circle cx="209.67" cy="186.13" r="1.85" fill="#999999" stroke="#454545" stroke-width="0.55"/>
<circle cx="211.51" cy="185.92" r="1.85" fill="#999999" stroke="#454545" stroke-width="0.55"/>
<circle cx="213.36" cy="185.72" r="1.85" fill="#999999" stroke="#454545" stroke-width="0.55"/>
<circle cx="215.20" cy="185.51" r="1.85" fill="#999999" stroke="#454545" stroke-width="0.55"/>
<circle cx="217.05" cy="185.31" r="1.85" fill="#999999" stroke="#454545" stroke-width="0.55"/>
<circle cx="218.89" cy="185.10" r="1.85" fill="#999999" stroke="#454545" stroke-width="0.55"/>
<circle cx="220.74" cy="184.90" r="1.85" fill="#999999" stroke="#454545" stroke-width="0.55"/>
<circle cx="222.58" cy="184.69" r="1.85" fill="#999999" stroke="#454545" stroke-width="0.55"/>
<circle cx="224.43" cy="184.49" r="1.85" fill="#999999" stroke="#454545" stroke-width="0.55"/>
<circle cx="226.27" cy="184.28" r="1.85" fill="#999999" stroke="#454545" stroke-width="0.55"/>
<circle cx="228.12" cy="184.11" r="1.85" fill="#999999" stroke="#454545" stroke-width="0.55"/>
<circle cx="229.96" cy="183.97" r="1.85" fill="#999999" stroke="#454545" stroke-width="0.55"/>
<circle cx="231.81" cy="183.82" r="1.85" fill="#999999" stroke="#454545" stroke-width="0.55"/>
<circle cx="233.66" cy="183.68" r="1.85" fill="#999999" stroke="#454545" stroke-width="0.55"/>
<circle cx="235.50" cy="183.53" r="1.85" fill="#999999" stroke="#454545" stroke-width="0.55"/>
<circle cx="237.35" cy="183.39" r="1.85" fill="#999999" stroke="#454545" stroke-width="0.55"/>
<circle cx="239.19" cy="183.24" r="1.85" fill="#999999" stroke="#454545" stroke-width="0.55"/>
<circle cx="241.04" cy="183.10" r="1.85" fill="#999999" stroke="#454545" stroke-width="0.55"/>
<circle cx="242.88" cy="182.96" r="1.85" fill="#999999" stroke="#454545" stroke-width="0.55"/>
<circle cx="244.73" cy="182.81" r="1.85" fill="#999999" stroke="#454545" stroke-width="0.55"/>
<circle cx="246.57" cy="182.67" r="1.85" fill="#999999" stroke="#454545" stroke-width="0.55"/>
<circle cx="248.42" cy="182.52" r="1.85" fill="#999999" stroke="#454545" stroke-width="0.55"/>
<circle cx="250.26" cy="182.38" r="1.85" fill="#999999" stroke="#454545" stroke-width="0.55"/>
<circle cx="252.11" cy="182.23" r="1.85" fill="#999999" stroke="#454545" stroke-width="0.55"/>
<circle cx="253.95" cy="182.09" r="1.85" fill="#999999" stroke="#454545" stroke-width="0.55"/>
<circle cx="255.80" cy="181.94" r="1.85" fill="#999999" stroke="#454545" stroke-width="0.55"/>
<circle cx="257.65" cy="181.80" r="1.85" fill="#999999" stroke="#454545" stroke-width="0.55"/>
<circle cx="259.49" cy="181.66" r="1.85" fill="#999999" stroke="#454545" stroke-width="0.55"/>
<circle cx="261.34" cy="181.51" r="1.85" fill="#999999" stroke="#454545" stroke-width="0.55"/>
<circle cx="263.18" cy="181.37" r="1.85" fill="#999999" stroke="#454545" stroke-width="0.55"/>
<circle cx="265.03" cy="181.23" r="1.85" fill="#999999" stroke="#454545" stroke-width="0.55"/>
<circle cx="266.87" cy="181.08" r="1.85" fill="#999999" stroke="#454545" stroke-width="0.55"/>
<circle cx="268.72" cy="180.94" r="1.85" fill="#999999" stroke="#454545" stroke-width="0.55"/>
<circle cx="270.56" cy="180.80" r="1.85" fill="#999999" stroke="#454545" stroke-width="0.55"/>
<circle cx="272.41" cy="180.65" r="1.85" fill="#999999" stroke="#454545" stroke-width="0.55"/>
<circle cx="274.25" cy="180.51" r="1.85" fill="#999999" stroke="#454545" stroke-width="0.55"/>
<circle cx="276.10" cy="180.37" r="1.85" fill="#999999" stroke="#454545" stroke-width="0.55"/>
<circle cx="277.94" cy="180.22" r="1.85" fill="#999999" stroke="#454545" stroke-width="0.55"/>
<circle cx="279.79" cy="180.08" r="1.85" fill="#999999" stroke="#454545" stroke-width="0.55"/>
<circle cx="281.63" cy="179.94" r="1.85" fill="#999999" stroke="#454545" stroke-width="0.55"/>
<circle cx="283.48" cy="179.81" r="1.85" fill="#999999" stroke="#454545" stroke-width="0.55"/>
<circle cx="285.33" cy="179.68" r="1.85" fill="#999999" stroke="#454545" stroke-width="0.55"/>
<circle cx="287.17" cy="179.55" r="1.85" fill="#999999" stroke="#454545" stroke-width="0.55"/>
<circle cx="289.02" cy="179.42" r="1.85" fill="#999999" stroke="#454545" stroke-width="0.55"/>
<circle cx="290.86" cy="179.29" r="1.85" fill="#999999" stroke="#454545" stroke-width="0.55"/>
<circle cx="292.71" cy="179.16" r="1.85" fill="#999999" stroke="#454545" stroke-width="0.55"/>
<circle cx="294.55" cy="179.03" r="1.85" fill="#999999" stroke="#454545" stroke-width="0.55"/>
<circle cx="296.40" cy="178.90" r="1.85" fill="#999999" stroke="#454545" stroke-width="0.55"/>
<circle cx="298.24" cy="178.77" r="1.85" fill="#999999" stroke="#454545" stroke-width="0.55"/>
<circle cx="300.09" cy="178.64" r="1.85" fill="#999999" stroke="#454545" stroke-width="0.55"/>
<circle cx="301.93" cy="178.51" r="1.85" fill="#999999" stroke="#454545" stroke-width="0.55"/>
<circle cx="303.78" cy="178.38" r="1.85" fill="#999999" stroke="#454545" stroke-width="0.55"/>
<circle cx="305.62" cy="178.25" r="1.85" fill="#999999" stroke="#454545" stroke-width="0.55"/>
<circle cx="307.47" cy="178.12" r="1.85" fill="#999999" stroke="#454545" stroke-width="0.55"/>
<circle cx="309.32" cy="178.01" r="1.85" fill="#999999" stroke="#454545" stroke-width="0.55"/>
<circle cx="311.16" cy="177.91" r="1.85" fill="#999999" stroke="#454545" stroke-width="0.55"/>
<circle cx="313.01" cy="177.82" r="1.85" fill="#999999" stroke="#454545" stroke-width="0.55"/>
<circle cx="314.85" cy="177.72" r="1.85" fill="#999999" stroke="#454545" stroke-width="0.55"/>
<circle cx="316.70" cy="177.62" r="1.85" fill="#999999" stroke="#454545" stroke-width="0.55"/>
<circle cx="318.54" cy="177.52" r="1.85" fill="#999999" stroke="#454545" stroke-width="0.55"/>
<circle cx="320.39" cy="177.42" r="1.85" fill="#999999" stroke="#454545" stroke-width="0.55"/>
<circle cx="322.23" cy="177.32" r="1.85" fill="#999999" stroke="#454545" stroke-width="0.55"/>
<circle cx="324.08" cy="177.22" r="1.85" fill="#999999" stroke="#454545" stroke-width="0.55"/>
<circle cx="325.92" cy="177.13" r="1.85" fill="#999999" stroke="#454545" stroke-width="0.55"/>
<circle cx="327.77" cy="177.03" r="1.85" fill="#999999" stroke="#454545" stroke-width="0.55"/>
<circle cx="329.61" cy="176.93" r="1.85" fill="#999999" stroke="#454545" stroke-width="0.55"/>
<circle cx="331.46" cy="176.83" r="1.85" fill="#999999" stroke="#454545" stroke-width="0.55"/>
<circle cx="333.30" cy="176.80" r="1.85" fill="#999999" stroke="#454545" stroke-width="0.55"/>
<circle cx="335.15" cy="176.80" r="1.85" fill="#999999" stroke="#454545" stroke-width="0.55"/>
<circle cx="337.00" cy="176.80" r="1.85" fill="#999999" stroke="#454545" stroke-width="0.55"/>
<circle cx="338.84" cy="176.80" r="1.85" fill="#999999" stroke="#454545" stroke-width="0.55"/>
<circle cx="340.69" cy="176.80" r="1.85" fill="#999999" stroke="#454545" stroke-width="0.55"/>
<circle cx="342.53" cy="176.81" r="1.85" fill="#999999" stroke="#454545" stroke-width="0.55"/>
<circle cx="344.38" cy="176.81" r="1.85" fill="#999999" stroke="#454545" stroke-width="0.55"/>
<circle cx="346.22" cy="176.81" r="1.85" fill="#999999" stroke="#454545" stroke-width="0.55"/>
<circle cx="348.07" cy="176.81" r="1.85" fill="#999999" stroke="#454545" stroke-width="0.55"/>
<circle cx="349.91" cy="176.81" r="1.85" fill="#999999" stroke="#454545" stroke-width="0.55"/>
<circle cx="351.76" cy="176.81" r="1.85" fill="#999999" stroke="#454545" stroke-width="0.55"/>
<circle cx="353.60" cy="176.81" r="1.85" fill="#999999" stroke="#454545" stroke-width="0.55"/>
<circle cx="355.45" cy="176.81" r="1.85" fill="#999999" stroke="#454545" stroke-width="0.55"/>
<circle cx="357.29" cy="176.81" r="1.85" fill="#999999" stroke="#454545" stroke-width="0.55"/>
<circle cx="359.14" cy="176.82" r="1.85" fill="#999999" stroke="#454545" stroke-width="0.55"/>
<circle cx="360.98" cy="176.82" r="1.85" fill="#999999" stroke="#454545" stroke-width="0.55"/>
<circle cx="362.83" cy="176.82" r="1.85" fill="#999999" stroke="#454545" stroke-width="0.55"/>
<circle cx="364.68" cy="176.82" r="1.85" fill="#999999" stroke="#454545" stroke-width="0.55"/>
<circle cx="366.52" cy="176.82" r="1.85" fill="#999999" stroke="#454545" stroke-width="0.55"/>
<circle cx="368.37" cy="176.82" r="1.85" fill="#999999" stroke="#454545" stroke-width="0.55"/>
<circle cx="370.21" cy="176.82" r="1.85" fill="#999999" stroke="#454545" stroke-width="0.55"/>
<circle cx="372.06" cy="176.82" r="1.85" fill="#999999" stroke="#454545" stroke-width="0.55"/>
<circle cx="373.90" cy="176.82" r="1.85" fill="#999999" stroke="#454545" stroke-width="0.55"/>
<circle cx="375.75" cy="176.83" r="1.85" fill="#999999" stroke="#454545" stroke-width="0.55"/>
<circle cx="377.59" cy="176.83" r="1.85" fill="#999999" stroke="#454545" stroke-width="0.55"/>
<circle cx="379.44" cy="176.83" r="1.85" fill="#999999" stroke="#454545" stroke-width="0.55"/>
<circle cx="381.28" cy="176.83" r="1.85" fill="#999999" stroke="#454545" stroke-width="0.55"/>
<circle cx="383.13" cy="176.83" r="1.85" fill="#999999" stroke="#454545" stroke-width="0.55"/>
<circle cx="384.97" cy="176.83" r="1.85" fill="#999999" stroke="#454545" stroke-width="0.55"/>
<circle cx="386.82" cy="176.83" r="1.85" fill="#999999" stroke="#454545" stroke-width="0.55"/>
<circle cx="388.67" cy="176.83" r="1.85" fill="#999999" stroke="#454545" stroke-width="0.55"/>
<circle cx="390.51" cy="176.83" r="1.85" fill="#999999" stroke="#454545" stroke-width="0.55"/>
<circle cx="392.36" cy="176.83" r="1.85" fill="#999999" stroke="#454545" stroke-width="0.55"/>
<circle cx="394.20" cy="176.84" r="1.85" fill="#999999" stroke="#454545" stroke-width="0.55"/>
<circle cx="396.05" cy="176.84" r="1.85" fill="#999999" stroke="#454545" stroke-width="0.55"/>
<circle cx="397.89" cy="176.84" r="1.85" fill="#999999" stroke="#454545" stroke-width="0.55"/>
<circle cx="399.74" cy="176.84" r="1.85" fill="#999999" stroke="#454545" stroke-width="0.55"/>
<circle cx="401.58" cy="176.84" r="1.85" fill="#999999" stroke="#454545" stroke-width="0.55"/>
<circle cx="403.43" cy="176.84" r="1.85" fill="#999999" stroke="#454545" stroke-width="0.55"/>
<circle cx="405.27" cy="176.84" r="1.85" fill="#999999" stroke="#454545" stroke-width="0.55"/>
<circle cx="407.12" cy="176.84" r="1.85" fill="#999999" stroke="#454545" stroke-width="0.55"/>
<circle cx="408.96" cy="176.84" r="1.85" fill="#999999" stroke="#454545" stroke-width="0.55"/>
<circle cx="410.81" cy="176.85" r="1.85" fill="#999999" stroke="#454545" stroke-width="0.55"/>
<circle cx="412.65" cy="176.85" r="1.85" fill="#999999" stroke="#454545" stroke-width="0.55"/>
<circle cx="414.50" cy="176.85" r="1.85" fill="#999999" stroke="#454545" stroke-width="0.55"/>
<circle cx="416.35" cy="176.85" r="1.85" fill="#999999" stroke="#454545" stroke-width="0.55"/>
<circle cx="418.19" cy="176.85" r="1.85" fill="#999999" stroke="#454545" stroke-width="0.55"/>
<circle cx="420.04" cy="176.85" r="1.85" fill="#999999" stroke="#454545" stroke-width="0.55"/>
<circle cx="421.88" cy="176.85" r="1.85" fill="#999999" stroke="#454545" stroke-width="0.55"/>
<circle cx="423.73" cy="176.85" r="1.85" fill="#999999" stroke="#454545" stroke-width="0.55"/>
<circle cx="425.57" cy="176.85" r="1.85" fill="#999999" stroke="#454545" stroke-width="0.55"/>
<circle cx="427.42" cy="176.85" r="1.85" fill="#999999" stroke="#454545" stroke-width="0.55"/>
<circle cx="429.26" cy="176.86" r="1.85" fill="#999999" stroke="#454545" stroke-width="0.55"/>
<circle cx="431.11" cy="176.86" r="1.85" fill="#999999" stroke="#454545" stroke-width="0.55"/>
<circle cx="432.95" cy="176.86" r="1.85" fill="#999999" stroke="#454545" stroke-width="0.55"/>
<circle cx="434.80" cy="176.86" r="1.85" fill="#999999" stroke="#454545" stroke-width="0.55"/>
<circle cx="436.64" cy="176.86" r="1.85" fill="#999999" stroke="#454545" stroke-width="0.55"/>
<circle cx="438.49" cy="176.86" r="1.85" fill="#999999" stroke="#454545" stroke-width="0.55"/>
<circle cx="440.34" cy="176.86" r="1.85" fill="#999999" stroke="#454545" stroke-width="0.55"/>
<circle cx="442.18" cy="176.86" r="1.85" fill="#999999" stroke="#454545" stroke-width="0.55"/>
<circle cx="444.03" cy="176.86" r="1.85" fill="#999999" stroke="#454545" stroke-width="0.55"/>
<circle cx="445.87" cy="176.87" r="1.85" fill="#999999" stroke="#454545" stroke-width="0.55"/>
<circle cx="447.72" cy="176.87" r="1.85" fill="#999999" stroke="#454545" stroke-width="0.55"/>
<circle cx="449.56" cy="176.87" r="1.85" fill="#999999" stroke="#454545" stroke-width="0.55"/>
<circle cx="451.41" cy="176.87" r="1.85" fill="#999999" stroke="#454545" stroke-width="0.55"/>
<circle cx="453.25" cy="176.87" r="1.85" fill="#999999" stroke="#454545" stroke-width="0.55"/>
<circle cx="455.10" cy="176.87" r="1.85" fill="#999999" stroke="#454545" stroke-width="0.55"/>
<circle cx="456.94" cy="176.87" r="1.85" fill="#999999" stroke="#454545" stroke-width="0.55"/>
<circle cx="458.79" cy="176.87" r="1.85" fill="#999999" stroke="#454545" stroke-width="0.55"/>
<circle cx="460.63" cy="176.87" r="1.85" fill="#999999" stroke="#454545" stroke-width="0.55"/>
<circle cx="462.48" cy="176.87" r="1.85" fill="#999999" stroke="#454545" stroke-width="0.55"/>
<circle cx="464.32" cy="176.88" r="1.85" fill="#999999" stroke="#454545" stroke-width="0.55"/>
<circle cx="466.17" cy="176.88" r="1.85" fill="#999999" stroke="#454545" stroke-width="0.55"/>
<circle cx="468.02" cy="176.88" r="1.85" fill="#999999" stroke="#454545" stroke-width="0.55"/>
<circle cx="469.86" cy="176.88" r="1.85" fill="#999999" stroke="#454545" stroke-width="0.55"/>
<circle cx="471.71" cy="176.88" r="1.85" fill="#999999" stroke="#454545" stroke-width="0.55"/>
<circle cx="473.55" cy="176.88" r="1.85" fill="#999999" stroke="#454545" stroke-width="0.55"/>
<circle cx="475.40" cy="176.88" r="1.85" fill="#999999" stroke="#454545" stroke-width="0.55"/>
<circle cx="477.24" cy="176.88" r="1.85" fill="#999999" stroke="#454545" stroke-width="0.55"/>
<circle cx="479.09" cy="176.88" r="1.85" fill="#999999" stroke="#454545" stroke-width="0.55"/>
<circle cx="480.93" cy="176.89" r="1.85" fill="#999999" stroke="#454545" stroke-width="0.55"/>
<circle cx="482.78" cy="176.89" r="1.85" fill="#999999" stroke="#454545" stroke-width="0.55"/>
<circle cx="484.62" cy="176.89" r="1.85" fill="#999999" stroke="#454545" stroke-width="0.55"/>
<circle cx="486.47" cy="176.89" r="1.85" fill="#999999" stroke="#454545" stroke-width="0.55"/>
<circle cx="488.31" cy="176.89" r="1.85" fill="#999999" stroke="#454545" stroke-width="0.55"/>
<circle cx="490.16" cy="176.89" r="1.85" fill="#999999" stroke="#454545" stroke-width="0.55"/>
<circle cx="492.01" cy="176.89" r="1.85" fill="#999999" stroke="#454545" stroke-width="0.55"/>
<circle cx="493.85" cy="176.89" r="1.85" fill="#999999" stroke="#454545" stroke-width="0.55"/>
<circle cx="495.70" cy="176.89" r="1.85" fill="#999999" stroke="#454545" stroke-width="0.55"/>
<circle cx="497.54" cy="176.90" r="1.85" fill="#999999" stroke="#454545" stroke-width="0.55"/>
<circle cx="499.39" cy="176.90" r="1.85" fill="#999999" stroke="#454545" stroke-width="0.55"/>
<circle cx="501.23" cy="176.90" r="1.85" fill="#999999" stroke="#454545" stroke-width="0.55"/>
<circle cx="503.08" cy="176.90" r="1.85" fill="#999999" stroke="#454545" stroke-width="0.55"/>
<circle cx="61.40" cy="222.40" r="1.8" fill="#c42c2c" stroke="#6a1010" stroke-width="0.5"/>
<circle cx="65.30" cy="220.80" r="1.8" fill="#c42c2c" stroke="#6a1010" stroke-width="0.5"/>
<circle cx="63.50" cy="222.20" r="1.8" fill="#d0e2f4" stroke="#8090a8" stroke-width="0.5"/>
<circle cx="80.90" cy="216.10" r="1.8" fill="#d0e2f4" stroke="#8090a8" stroke-width="0.5"/>
<circle cx="86.50" cy="209.80" r="1.8" fill="#d0e2f4" stroke="#8090a8" stroke-width="0.5"/>
<circle cx="138.50" cy="194.60" r="1.8" fill="#d0e2f4" stroke="#8090a8" stroke-width="0.5"/>
<circle cx="331.60" cy="176.90" r="1.8" fill="#d0e2f4" stroke="#8090a8" stroke-width="0.5"/>
<line x1="49.60" y1="321.50" x2="70.00" y2="321.50" stroke="#231f20" stroke-width="1.4"/>
<line x1="78.00" y1="321.50" x2="95.00" y2="321.50" stroke="#231f20" stroke-width="1.4"/>
<line x1="103.00" y1="321.50" x2="158.10" y2="321.50" stroke="#231f20" stroke-width="1.4"/>
<line x1="166.30" y1="321.50" x2="504.00" y2="321.50" stroke="#231f20" stroke-width="1.4"/>
<text x="51.00" y="191.20" font-size="7.0" fill="#c23a38" stroke="#c23a38" stroke-width="0.06" textLength="27.50" lengthAdjust="spacingAndGlyphs" transform="rotate(-45 51.00 191.20)">Volasertib</text>
<text x="60.20" y="192.80" font-size="7.0" stroke="#231f20" stroke-width="0.06" textLength="38.50" lengthAdjust="spacingAndGlyphs" transform="rotate(-45 60.20 192.80)">Daunorubicin</text>
<text x="68.60" y="192.40" font-size="7.0" fill="#c23a38" stroke="#c23a38" stroke-width="0.06" textLength="29.50" lengthAdjust="spacingAndGlyphs" transform="rotate(-45 68.60 192.40)">Rigosertib</text>
<text x="82.00" y="191.40" font-size="7.0" stroke="#231f20" stroke-width="0.06" textLength="30.50" lengthAdjust="spacingAndGlyphs" transform="rotate(-45 82.00 191.40)">Trametinib</text>
<text x="89.60" y="192.00" font-size="7.0" stroke="#231f20" stroke-width="0.06" textLength="32.50" lengthAdjust="spacingAndGlyphs" transform="rotate(-45 89.60 192.00)">Cytarabine</text>
<text x="140.20" y="190.60" font-size="7.0" stroke="#231f20" stroke-width="0.06" textLength="30.00" lengthAdjust="spacingAndGlyphs" transform="rotate(-45 140.20 190.60)">Ruxolitinib</text>
<text x="328.00" y="172.30" font-size="6.6" stroke="#231f20" stroke-width="0.06" textLength="33.80" lengthAdjust="spacingAndGlyphs">Selumetinib</text>
<text x="58.20" y="330.40" font-size="5.0" text-anchor="middle" stroke="#231f20" stroke-width="0.06" textLength="17.00" lengthAdjust="spacingAndGlyphs">&lt;10 nM</text>
<text x="85.20" y="330.40" font-size="5.0" text-anchor="middle" stroke="#231f20" stroke-width="0.06" textLength="23.80" lengthAdjust="spacingAndGlyphs">10-100 nM</text>
<text x="131.30" y="330.40" font-size="5.0" text-anchor="middle" stroke="#231f20" stroke-width="0.06" textLength="27.30" lengthAdjust="spacingAndGlyphs">100-1000 nM</text>
<text x="334.20" y="331.20" font-size="6.6" text-anchor="middle" stroke="#231f20" stroke-width="0.06" textLength="29.00" lengthAdjust="spacingAndGlyphs">&gt;1000 nM</text>
<text x="59.10" y="340.30" font-size="6.4" text-anchor="middle" stroke="#231f20" stroke-width="0.06" textLength="19.40" lengthAdjust="spacingAndGlyphs">11 (5%)</text>
<text x="85.20" y="340.30" font-size="6.4" text-anchor="middle" stroke="#231f20" stroke-width="0.06" textLength="15.80" lengthAdjust="spacingAndGlyphs">9 (4%)</text>
<text x="132.70" y="340.30" font-size="6.4" text-anchor="middle" stroke="#231f20" stroke-width="0.06" textLength="22.60" lengthAdjust="spacingAndGlyphs">30 (13%)</text>
<text x="335.10" y="341.40" font-size="6.6" text-anchor="middle" stroke="#231f20" stroke-width="0.06" textLength="27.30" lengthAdjust="spacingAndGlyphs">183 (79%)</text>
<text x="25.60" y="333.00" font-size="6.2" text-anchor="middle" stroke="#231f20" stroke-width="0.06" textLength="16.70" lengthAdjust="spacingAndGlyphs">Group</text>
<text x="25.60" y="341.30" font-size="6.2" text-anchor="middle" stroke="#231f20" stroke-width="0.06" textLength="16.70" lengthAdjust="spacingAndGlyphs">nb (%)</text>
<rect x="405.80" y="220.00" width="6.00" height="7.00" fill="#da9a24" stroke="#a8761c" stroke-width="0.6"/>
<rect x="405.80" y="229.20" width="6.00" height="7.00" fill="#c9d7e8" stroke="#8a9bb0" stroke-width="0.6"/>
<text x="416.30" y="226.20" font-size="6.6" stroke="#231f20" stroke-width="0.06" textLength="84.30" lengthAdjust="spacingAndGlyphs">Median IC<tspan font-size="4" dy="1.6">50</tspan><tspan dy="-1.6"> CK &lt; intermediate</tspan></text>
<text x="416.30" y="235.40" font-size="6.6" stroke="#231f20" stroke-width="0.06" textLength="84.30" lengthAdjust="spacingAndGlyphs">Median IC<tspan font-size="4" dy="1.6">50</tspan><tspan dy="-1.6"> CK &gt; intermediate</tspan></text>
<text x="471.00" y="281.00" font-size="6.6" stroke="#231f20" stroke-width="0.06" textLength="21.60" lengthAdjust="spacingAndGlyphs">p-value</text>
<rect x="471.20" y="285.20" width="6.00" height="7.20" fill="#a82e2e" stroke="#6e1414" stroke-width="0.5"/>
<rect x="471.20" y="295.40" width="6.00" height="6.40" fill="#e8e8e8" stroke="#8a8a8a" stroke-width="0.5"/>
<text x="479.60" y="291.00" font-size="6.6" stroke="#231f20" stroke-width="0.06" textLength="16.50" lengthAdjust="spacingAndGlyphs">&lt;0.05</text>
<text x="479.60" y="301.00" font-size="6.6" stroke="#231f20" stroke-width="0.06" textLength="8.20" lengthAdjust="spacingAndGlyphs">NS</text>
<rect x="22.40" y="391.90" width="219.60" height="6.81" fill="#eeeeee"/>
<rect x="22.40" y="406.02" width="219.60" height="6.81" fill="#eeeeee"/>
<rect x="22.40" y="420.14" width="219.60" height="6.81" fill="#eeeeee"/>
<rect x="22.40" y="434.26" width="219.60" height="6.81" fill="#eeeeee"/>
<rect x="22.40" y="448.38" width="219.60" height="6.81" fill="#eeeeee"/>
<rect x="22.40" y="462.50" width="219.60" height="6.81" fill="#eeeeee"/>
<rect x="20.6" y="375.6" width="221.8" height="94.6" fill="none" stroke="#3a3a3a" stroke-width="1"/>
<text x="22.20" y="386.00" font-size="6.5" stroke="#231f20" stroke-width="0.06" textLength="31.60" lengthAdjust="spacingAndGlyphs">Compound</text>
<text x="89.60" y="381.40" font-size="6.5" text-anchor="middle" stroke="#231f20" stroke-width="0.06" textLength="39.00" lengthAdjust="spacingAndGlyphs">Median IC<tspan font-size="4.6" dy="1.6">50</tspan><tspan dy="-1.6"> in</tspan></text>
<text x="89.60" y="389.00" font-size="6.5" text-anchor="middle" stroke="#231f20" stroke-width="0.06" textLength="35.00" lengthAdjust="spacingAndGlyphs">CK (nM, log<tspan font-size="4.6" dy="1.6">2</tspan><tspan dy="-1.6">)</tspan></text>
<text x="119.60" y="386.00" font-size="6.5" stroke="#231f20" stroke-width="0.06" textLength="29.00" lengthAdjust="spacingAndGlyphs">Drug class</text>
<text x="25.50" y="397.65" font-size="6.5" stroke="#231f20" stroke-width="0.06" textLength="35.00" lengthAdjust="spacingAndGlyphs">Aminopterin</text>
<text x="93.50" y="397.65" font-size="6.5" text-anchor="middle" stroke="#231f20" stroke-width="0.06" textLength="12.10" lengthAdjust="spacingAndGlyphs">2.00</text>
<text x="119.60" y="397.65" font-size="6.5" stroke="#231f20" stroke-width="0.06" textLength="93.00" lengthAdjust="spacingAndGlyphs">Dihydrofolate reductase inhibitor</text>
<text x="25.50" y="404.71" font-size="6.5" stroke="#231f20" stroke-width="0.06" textLength="36.00" lengthAdjust="spacingAndGlyphs">Gemcitabine</text>
<text x="93.50" y="404.71" font-size="6.5" text-anchor="middle" stroke="#231f20" stroke-width="0.06" textLength="12.10" lengthAdjust="spacingAndGlyphs">2.00</text>
<text x="119.60" y="404.71" font-size="6.5" stroke="#231f20" stroke-width="0.06" textLength="45.60" lengthAdjust="spacingAndGlyphs">Antimetabolite</text>
<text x="25.50" y="411.77" font-size="6.5" stroke="#231f20" stroke-width="0.06" textLength="37.40" lengthAdjust="spacingAndGlyphs">Mitoxantrone</text>
<text x="93.50" y="411.77" font-size="6.5" text-anchor="middle" stroke="#231f20" stroke-width="0.06" textLength="12.10" lengthAdjust="spacingAndGlyphs">2.34</text>
<text x="119.60" y="411.77" font-size="6.5" stroke="#231f20" stroke-width="0.06" textLength="97.50" lengthAdjust="spacingAndGlyphs">Anthracenedione -DNA intercalant</text>
<text x="25.50" y="418.83" font-size="6.5" stroke="#231f20" stroke-width="0.06" textLength="36.80" lengthAdjust="spacingAndGlyphs">Panobinostat</text>
<text x="93.50" y="418.83" font-size="6.5" text-anchor="middle" stroke="#231f20" stroke-width="0.06" textLength="12.10" lengthAdjust="spacingAndGlyphs">2.60</text>
<text x="119.60" y="418.83" font-size="6.5" stroke="#231f20" stroke-width="0.06" textLength="42.00" lengthAdjust="spacingAndGlyphs">HDAC inhibitor</text>
<text x="25.50" y="425.89" font-size="6.5" stroke="#231f20" stroke-width="0.06" textLength="32.40" lengthAdjust="spacingAndGlyphs">Bortezomib</text>
<text x="93.50" y="425.89" font-size="6.5" text-anchor="middle" stroke="#231f20" stroke-width="0.06" textLength="12.10" lengthAdjust="spacingAndGlyphs">2.66</text>
<text x="119.60" y="425.89" font-size="6.5" stroke="#231f20" stroke-width="0.06" textLength="59.10" lengthAdjust="spacingAndGlyphs">Proteasome inhibitor</text>
<text x="25.50" y="432.95" font-size="6.5" stroke="#231f20" stroke-width="0.06" textLength="33.60" lengthAdjust="spacingAndGlyphs">PF-3758309</text>
<text x="93.50" y="432.95" font-size="6.5" text-anchor="middle" stroke="#231f20" stroke-width="0.06" textLength="12.10" lengthAdjust="spacingAndGlyphs">2.72</text>
<text x="119.60" y="432.95" font-size="6.5" stroke="#231f20" stroke-width="0.06" textLength="41.00" lengthAdjust="spacingAndGlyphs">PAK4 inhibitor</text>
<text x="25.50" y="440.01" font-size="6.5" fill="#c23a38" stroke="#c23a38" stroke-width="0.06" textLength="27.90" lengthAdjust="spacingAndGlyphs">Volasertib</text>
<text x="93.50" y="440.01" font-size="6.5" text-anchor="middle" fill="#c23a38" stroke="#c23a38" stroke-width="0.06" textLength="12.10" lengthAdjust="spacingAndGlyphs">2.72</text>
<text x="119.60" y="440.01" font-size="6.5" fill="#c23a38" stroke="#c23a38" stroke-width="0.06" textLength="39.80" lengthAdjust="spacingAndGlyphs">PLK1 inhibitor</text>
<text x="25.50" y="447.07" font-size="6.5" stroke="#231f20" stroke-width="0.06" textLength="38.60" lengthAdjust="spacingAndGlyphs">Daunorubicin</text>
<text x="93.50" y="447.07" font-size="6.5" text-anchor="middle" stroke="#231f20" stroke-width="0.06" textLength="12.10" lengthAdjust="spacingAndGlyphs">2.79</text>
<text x="119.60" y="447.07" font-size="6.5" stroke="#231f20" stroke-width="0.06" textLength="88.40" lengthAdjust="spacingAndGlyphs">Anthracycline - DNA intercalant</text>
<text x="25.50" y="454.13" font-size="6.5" fill="#c23a38" stroke="#c23a38" stroke-width="0.06" textLength="28.60" lengthAdjust="spacingAndGlyphs">Rigosertib</text>
<text x="93.50" y="454.13" font-size="6.5" text-anchor="middle" fill="#c23a38" stroke="#c23a38" stroke-width="0.06" textLength="12.10" lengthAdjust="spacingAndGlyphs">3.09</text>
<text x="119.60" y="454.13" font-size="6.5" fill="#c23a38" stroke="#c23a38" stroke-width="0.06" textLength="39.80" lengthAdjust="spacingAndGlyphs">PLK1 inhibitor</text>
<text x="25.50" y="461.19" font-size="6.5" stroke="#231f20" stroke-width="0.06" textLength="31.40" lengthAdjust="spacingAndGlyphs">Ganetespid</text>
<text x="93.50" y="461.19" font-size="6.5" text-anchor="middle" stroke="#231f20" stroke-width="0.06" textLength="12.10" lengthAdjust="spacingAndGlyphs">3.11</text>
<text x="119.60" y="461.19" font-size="6.5" stroke="#231f20" stroke-width="0.06" textLength="43.50" lengthAdjust="spacingAndGlyphs">HSP90 inhibitor</text>
<text x="25.50" y="468.25" font-size="6.5" stroke="#231f20" stroke-width="0.06" textLength="32.50" lengthAdjust="spacingAndGlyphs">Clofarabine</text>
<text x="93.50" y="468.25" font-size="6.5" text-anchor="middle" stroke="#231f20" stroke-width="0.06" textLength="12.10" lengthAdjust="spacingAndGlyphs">3.26</text>
<text x="119.60" y="468.25" font-size="6.5" stroke="#231f20" stroke-width="0.06" textLength="45.60" lengthAdjust="spacingAndGlyphs">Antimetabolite</text>
<text x="326.00" y="374.00" font-size="6.3" text-anchor="middle" stroke="#231f20" stroke-width="0.06" textLength="63.30" lengthAdjust="spacingAndGlyphs">CK vs Inter AML (n=38)</text>
<text x="304.80" y="384.00" font-size="6.3" text-anchor="middle" stroke="#231f20" stroke-width="0.06" textLength="35.80" lengthAdjust="spacingAndGlyphs">Resistance in</text>
<text x="304.80" y="392.20" font-size="6.3" text-anchor="middle" stroke="#231f20" stroke-width="0.06" textLength="22.00" lengthAdjust="spacingAndGlyphs">CK-AML</text>
<text x="348.00" y="384.00" font-size="6.3" text-anchor="middle" stroke="#231f20" stroke-width="0.06" textLength="35.60" lengthAdjust="spacingAndGlyphs">Sensitivity in</text>
<text x="348.00" y="392.20" font-size="6.3" text-anchor="middle" stroke="#231f20" stroke-width="0.06" textLength="22.00" lengthAdjust="spacingAndGlyphs">CK-AML</text>
<line x1="294.00" y1="399.50" x2="317.50" y2="399.50" stroke="#231f20" stroke-width="1.1"/>
<path d="M291.00 399.00 L295.20 396.80 L295.20 401.20 Z" fill="#231f20"/>
<path d="M320.50 399.00 L316.30 396.80 L316.30 401.20 Z" fill="#231f20"/>
<line x1="337.00" y1="399.50" x2="356.90" y2="399.50" stroke="#231f20" stroke-width="1.1"/>
<path d="M334.00 399.00 L338.20 396.80 L338.20 401.20 Z" fill="#231f20"/>
<path d="M359.90 399.00 L355.70 396.80 L355.70 401.20 Z" fill="#231f20"/>
<line x1="322.50" y1="406.50" x2="322.50" y2="471.00" stroke="#9a9a9a" stroke-width="0.6" stroke-dasharray="1.2,1"/>
<line x1="290.20" y1="457.50" x2="355.00" y2="457.50" stroke="#9a9a9a" stroke-width="0.6" stroke-dasharray="1.2,1"/>
<line x1="289.50" y1="406.50" x2="289.50" y2="471.60" stroke="#231f20" stroke-width="1"/>
<line x1="286.80" y1="414.50" x2="289.80" y2="414.50" stroke="#231f20" stroke-width="0.8"/>
<text x="284.40" y="416.70" font-size="6.6" text-anchor="end" stroke="#231f20" stroke-width="0.06">6</text>
<line x1="286.80" y1="432.50" x2="289.80" y2="432.50" stroke="#231f20" stroke-width="0.8"/>
<text x="284.40" y="434.70" font-size="6.6" text-anchor="end" stroke="#231f20" stroke-width="0.06">4</text>
<line x1="286.80" y1="450.50" x2="289.80" y2="450.50" stroke="#231f20" stroke-width="0.8"/>
<text x="284.40" y="452.60" font-size="6.6" text-anchor="end" stroke="#231f20" stroke-width="0.06">2</text>
<line x1="286.80" y1="468.50" x2="289.80" y2="468.50" stroke="#231f20" stroke-width="0.8"/>
<text x="284.40" y="470.80" font-size="6.6" text-anchor="end" stroke="#231f20" stroke-width="0.06">0</text>
<line x1="289.30" y1="471.50" x2="355.50" y2="471.50" stroke="#231f20" stroke-width="1"/>
<line x1="292.50" y1="471.40" x2="292.50" y2="474.00" stroke="#231f20" stroke-width="0.8"/>
<text x="292.70" y="483.20" font-size="6.6" text-anchor="middle" stroke="#231f20" stroke-width="0.06">−4</text>
<line x1="307.50" y1="471.40" x2="307.50" y2="474.00" stroke="#231f20" stroke-width="0.8"/>
<text x="307.80" y="483.20" font-size="6.6" text-anchor="middle" stroke="#231f20" stroke-width="0.06">−2</text>
<line x1="322.50" y1="471.40" x2="322.50" y2="474.00" stroke="#231f20" stroke-width="0.8"/>
<text x="322.30" y="483.20" font-size="6.6" text-anchor="middle" stroke="#231f20" stroke-width="0.06">0</text>
<line x1="337.50" y1="471.40" x2="337.50" y2="474.00" stroke="#231f20" stroke-width="0.8"/>
<text x="337.20" y="483.20" font-size="6.6" text-anchor="middle" stroke="#231f20" stroke-width="0.06">2</text>
<line x1="351.50" y1="471.40" x2="351.50" y2="474.00" stroke="#231f20" stroke-width="0.8"/>
<text x="351.90" y="483.20" font-size="6.6" text-anchor="middle" stroke="#231f20" stroke-width="0.06">4</text>
<text x="322.50" y="495.90" font-size="8.5" text-anchor="middle" stroke="#231f20" stroke-width="0.06" textLength="100.00" lengthAdjust="spacingAndGlyphs">Difference of log2 medians</text>
<text x="272.40" y="436.80" font-size="8.3" text-anchor="middle" stroke="#231f20" stroke-width="0.06" textLength="63.50" lengthAdjust="spacingAndGlyphs" transform="rotate(-90 272.40 436.80)">-log<tspan font-size="5.4" dy="1.8">10</tspan><tspan dy="-1.8">(p-value)</tspan></text>
<circle cx="315.10" cy="409.00" r="2.1" fill="#858585" stroke="#7a7a7a" stroke-width="0.3"/>
<circle cx="314.00" cy="437.30" r="2.1" fill="#858585" stroke="#7a7a7a" stroke-width="0.3"/>
<circle cx="314.70" cy="445.80" r="2.1" fill="#858585" stroke="#7a7a7a" stroke-width="0.3"/>
<circle cx="317.20" cy="445.20" r="2.1" fill="#858585" stroke="#7a7a7a" stroke-width="0.3"/>
<circle cx="306.20" cy="449.90" r="2.1" fill="#858585" stroke="#7a7a7a" stroke-width="0.3"/>
<circle cx="310.70" cy="455.60" r="2.1" fill="#858585" stroke="#7a7a7a" stroke-width="0.3"/>
<circle cx="307.00" cy="458.00" r="2.1" fill="#858585" stroke="#7a7a7a" stroke-width="0.3"/>
<circle cx="309.10" cy="461.80" r="2.1" fill="#858585" stroke="#7a7a7a" stroke-width="0.3"/>
<circle cx="302.90" cy="462.90" r="2.1" fill="#858585" stroke="#7a7a7a" stroke-width="0.3"/>
<circle cx="317.00" cy="452.60" r="2.1" fill="#858585" stroke="#7a7a7a" stroke-width="0.3"/>
<circle cx="320.20" cy="452.90" r="2.1" fill="#858585" stroke="#7a7a7a" stroke-width="0.3"/>
<circle cx="315.80" cy="455.80" r="2.1" fill="#858585" stroke="#7a7a7a" stroke-width="0.3"/>
<circle cx="318.00" cy="457.50" r="2.1" fill="#858585" stroke="#7a7a7a" stroke-width="0.3"/>
<circle cx="315.60" cy="459.60" r="2.1" fill="#858585" stroke="#7a7a7a" stroke-width="0.3"/>
<circle cx="317.80" cy="461.00" r="2.1" fill="#858585" stroke="#7a7a7a" stroke-width="0.3"/>
<circle cx="316.00" cy="463.20" r="2.1" fill="#858585" stroke="#7a7a7a" stroke-width="0.3"/>
<circle cx="316.20" cy="466.00" r="2.1" fill="#858585" stroke="#7a7a7a" stroke-width="0.3"/>
<circle cx="318.60" cy="466.20" r="2.1" fill="#858585" stroke="#7a7a7a" stroke-width="0.3"/>
<circle cx="320.40" cy="463.80" r="2.1" fill="#858585" stroke="#7a7a7a" stroke-width="0.3"/>
<circle cx="322.60" cy="462.20" r="2.1" fill="#858585" stroke="#7a7a7a" stroke-width="0.3"/>
<circle cx="325.60" cy="460.20" r="2.1" fill="#858585" stroke="#7a7a7a" stroke-width="0.3"/>
<circle cx="328.60" cy="459.40" r="2.1" fill="#858585" stroke="#7a7a7a" stroke-width="0.3"/>
<circle cx="331.60" cy="461.00" r="2.1" fill="#858585" stroke="#7a7a7a" stroke-width="0.3"/>
<circle cx="323.60" cy="465.60" r="2.1" fill="#858585" stroke="#7a7a7a" stroke-width="0.3"/>
<circle cx="322.00" cy="467.20" r="2.1" fill="#858585" stroke="#7a7a7a" stroke-width="0.3"/>
<circle cx="350.00" cy="463.40" r="2.1" fill="#858585" stroke="#7a7a7a" stroke-width="0.3"/>
<circle cx="320.00" cy="459.00" r="2.1" fill="#858585" stroke="#7a7a7a" stroke-width="0.3"/>
<circle cx="316.30" cy="446.60" r="2.0" fill="#d0e2f4" stroke="#8090a8" stroke-width="0.5"/>
<circle cx="308.60" cy="459.70" r="2.0" fill="#d0e2f4" stroke="#8090a8" stroke-width="0.5"/>
<circle cx="342.90" cy="446.90" r="2.0" fill="#c42c2c" stroke="#6a1010" stroke-width="0.5"/>
<circle cx="321.70" cy="467.00" r="2.0" fill="#c42c2c" stroke="#6a1010" stroke-width="0.5"/>
<polyline points="293.9,427.8 308.2,459.2" fill="none" stroke="#231f20" stroke-width="0.85"/>
<polyline points="298.3,434.7 315.8,446.2" fill="none" stroke="#231f20" stroke-width="0.85"/>
<polyline points="323.2,467.0 332.8,467.0" fill="none" stroke="#231f20" stroke-width="0.85"/>
<text x="292.30" y="428.30" font-size="6.6" stroke="#231f20" stroke-width="0.06" textLength="29.40" lengthAdjust="spacingAndGlyphs">Cytarabine</text>
<text x="297.70" y="434.80" font-size="6.6" stroke="#231f20" stroke-width="0.06" textLength="37.90" lengthAdjust="spacingAndGlyphs">Daunorubicin</text>
<text x="331.00" y="442.60" font-size="6.6" stroke="#231f20" stroke-width="0.06" textLength="28.30" lengthAdjust="spacingAndGlyphs">Rigosertib</text>
<text x="333.10" y="469.10" font-size="6.6" stroke="#231f20" stroke-width="0.06" textLength="27.80" lengthAdjust="spacingAndGlyphs">Volasertib</text>
<text x="450.50" y="398.00" font-size="6.3" text-anchor="middle" stroke="#231f20" stroke-width="0.06" textLength="23.30" lengthAdjust="spacingAndGlyphs">p=0.004</text>
<text x="408.60" y="424.00" font-size="8.7" text-anchor="middle" stroke="#231f20" stroke-width="0.06" textLength="93.00" lengthAdjust="spacingAndGlyphs" transform="rotate(-90 408.60 424.00)">Rigosertib IC50 (log<tspan font-size="5.4" dy="1.8">2</tspan><tspan dy="-1.8"> nM)</tspan></text>
<line x1="430.50" y1="400.80" x2="430.50" y2="470.60" stroke="#231f20" stroke-width="1"/>
<line x1="427.80" y1="409.50" x2="430.80" y2="409.50" stroke="#231f20" stroke-width="0.8"/>
<text x="425.00" y="411.80" font-size="6.4" text-anchor="end" stroke="#231f20" stroke-width="0.06">10</text>
<line x1="427.80" y1="424.50" x2="430.80" y2="424.50" stroke="#231f20" stroke-width="0.8"/>
<text x="425.00" y="426.80" font-size="6.4" text-anchor="end" stroke="#231f20" stroke-width="0.06">8</text>
<line x1="427.80" y1="439.50" x2="430.80" y2="439.50" stroke="#231f20" stroke-width="0.8"/>
<text x="425.00" y="441.60" font-size="6.4" text-anchor="end" stroke="#231f20" stroke-width="0.06">6</text>
<line x1="427.80" y1="454.50" x2="430.80" y2="454.50" stroke="#231f20" stroke-width="0.8"/>
<text x="425.00" y="456.50" font-size="6.4" text-anchor="end" stroke="#231f20" stroke-width="0.06">4</text>
<line x1="427.80" y1="469.50" x2="430.80" y2="469.50" stroke="#231f20" stroke-width="0.8"/>
<text x="425.00" y="471.50" font-size="6.4" text-anchor="end" stroke="#231f20" stroke-width="0.06">2</text>
<circle cx="446.80" cy="431.40" r="2.35" fill="#8c8c8c" stroke="#555555" stroke-width="0.55"/>
<circle cx="442.80" cy="434.30" r="2.35" fill="#8c8c8c" stroke="#555555" stroke-width="0.55"/>
<circle cx="445.40" cy="438.00" r="2.35" fill="#8c8c8c" stroke="#555555" stroke-width="0.55"/>
<circle cx="442.50" cy="441.30" r="2.35" fill="#8c8c8c" stroke="#555555" stroke-width="0.55"/>
<circle cx="444.70" cy="447.70" r="2.35" fill="#8c8c8c" stroke="#555555" stroke-width="0.55"/>
<circle cx="446.60" cy="448.20" r="2.35" fill="#8c8c8c" stroke="#555555" stroke-width="0.55"/>
<circle cx="444.20" cy="458.30" r="2.35" fill="#8c8c8c" stroke="#555555" stroke-width="0.55"/>
<circle cx="441.70" cy="462.30" r="2.35" fill="#8c8c8c" stroke="#555555" stroke-width="0.55"/>
<circle cx="468.40" cy="407.40" r="2.35" fill="#8c8c8c" stroke="#555555" stroke-width="0.55"/>
<circle cx="466.50" cy="411.30" r="2.35" fill="#8c8c8c" stroke="#555555" stroke-width="0.55"/>
<circle cx="468.70" cy="439.40" r="2.35" fill="#8c8c8c" stroke="#555555" stroke-width="0.55"/>
<circle cx="466.80" cy="443.10" r="2.35" fill="#8c8c8c" stroke="#555555" stroke-width="0.55"/>
<circle cx="471.30" cy="451.10" r="2.35" fill="#8c8c8c" stroke="#555555" stroke-width="0.55"/>
<circle cx="469.40" cy="454.70" r="2.35" fill="#8c8c8c" stroke="#555555" stroke-width="0.55"/>
<circle cx="467.20" cy="457.60" r="2.35" fill="#8c8c8c" stroke="#555555" stroke-width="0.55"/>
<circle cx="470.10" cy="457.60" r="2.35" fill="#8c8c8c" stroke="#555555" stroke-width="0.55"/>
<circle cx="466.50" cy="460.50" r="2.35" fill="#8c8c8c" stroke="#555555" stroke-width="0.55"/>
<circle cx="468.70" cy="461.30" r="2.35" fill="#8c8c8c" stroke="#555555" stroke-width="0.55"/>
<circle cx="468.00" cy="463.40" r="2.35" fill="#8c8c8c" stroke="#555555" stroke-width="0.55"/>
<circle cx="470.10" cy="466.40" r="2.35" fill="#8c8c8c" stroke="#555555" stroke-width="0.55"/>
<circle cx="465.80" cy="468.50" r="2.35" fill="#8c8c8c" stroke="#555555" stroke-width="0.55"/>
<line x1="436.70" y1="440.50" x2="451.20" y2="440.50" stroke="#231f20" stroke-width="1.1"/>
<line x1="461.40" y1="460.50" x2="475.20" y2="460.50" stroke="#231f20" stroke-width="1.1"/>
<line x1="435.20" y1="471.50" x2="452.70" y2="471.50" stroke="#231f20" stroke-width="1.3"/>
<line x1="459.20" y1="471.50" x2="476.70" y2="471.50" stroke="#231f20" stroke-width="1.3"/>
<line x1="443.50" y1="471.50" x2="443.50" y2="474.40" stroke="#231f20" stroke-width="0.9"/>
<line x1="468.50" y1="471.50" x2="468.50" y2="474.40" stroke="#231f20" stroke-width="0.9"/>
<text x="444.20" y="484.20" font-size="6.6" text-anchor="middle" stroke="#231f20" stroke-width="0.06" textLength="13.70" lengthAdjust="spacingAndGlyphs">Inter</text>
<text x="468.10" y="484.20" font-size="6.6" text-anchor="middle" stroke="#231f20" stroke-width="0.06" textLength="7.60" lengthAdjust="spacingAndGlyphs">CK</text>
<text x="71.80" y="543.80" font-size="6.3" text-anchor="middle" stroke="#231f20" stroke-width="0.06" textLength="20.50" lengthAdjust="spacingAndGlyphs">p=0.004</text>
<text x="30.40" y="570.90" font-size="8.6" text-anchor="middle" stroke="#231f20" stroke-width="0.06" textLength="106.30" lengthAdjust="spacingAndGlyphs" transform="rotate(-90 30.40 570.90)">Daunorubicin IC50 (log<tspan font-size="5.4" dy="1.8">2</tspan><tspan dy="-1.8"> nM)</tspan></text>
<line x1="47.50" y1="549.30" x2="47.50" y2="618.20" stroke="#231f20" stroke-width="1"/>
<line x1="44.50" y1="569.50" x2="47.50" y2="569.50" stroke="#231f20" stroke-width="0.8"/>
<text x="40.80" y="571.70" font-size="6.4" text-anchor="end" stroke="#231f20" stroke-width="0.06">6</text>
<line x1="44.50" y1="592.50" x2="47.50" y2="592.50" stroke="#231f20" stroke-width="0.8"/>
<text x="40.80" y="594.70" font-size="6.4" text-anchor="end" stroke="#231f20" stroke-width="0.06">4</text>
<line x1="44.50" y1="615.50" x2="47.50" y2="615.50" stroke="#231f20" stroke-width="0.8"/>
<text x="40.80" y="617.70" font-size="6.4" text-anchor="end" stroke="#231f20" stroke-width="0.06">2</text>
<circle cx="61.20" cy="603.60" r="2.35" fill="#8c8c8c" stroke="#555555" stroke-width="0.55"/>
<circle cx="58.10" cy="609.40" r="2.35" fill="#8c8c8c" stroke="#555555" stroke-width="0.55"/>
<circle cx="56.00" cy="615.20" r="2.35" fill="#8c8c8c" stroke="#555555" stroke-width="0.55"/>
<circle cx="58.60" cy="615.40" r="2.35" fill="#8c8c8c" stroke="#555555" stroke-width="0.55"/>
<circle cx="61.20" cy="615.20" r="2.35" fill="#8c8c8c" stroke="#555555" stroke-width="0.55"/>
<circle cx="63.80" cy="615.40" r="2.35" fill="#8c8c8c" stroke="#555555" stroke-width="0.55"/>
<circle cx="66.00" cy="615.20" r="2.35" fill="#8c8c8c" stroke="#555555" stroke-width="0.55"/>
<circle cx="85.40" cy="553.80" r="2.35" fill="#8c8c8c" stroke="#555555" stroke-width="0.55"/>
<circle cx="88.70" cy="566.10" r="2.35" fill="#8c8c8c" stroke="#555555" stroke-width="0.55"/>
<circle cx="82.60" cy="574.70" r="2.35" fill="#8c8c8c" stroke="#555555" stroke-width="0.55"/>
<circle cx="88.70" cy="577.90" r="2.35" fill="#8c8c8c" stroke="#555555" stroke-width="0.55"/>
<circle cx="83.60" cy="586.50" r="2.35" fill="#8c8c8c" stroke="#555555" stroke-width="0.55"/>
<circle cx="83.30" cy="588.60" r="2.35" fill="#8c8c8c" stroke="#555555" stroke-width="0.55"/>
<circle cx="87.00" cy="595.30" r="2.35" fill="#8c8c8c" stroke="#555555" stroke-width="0.55"/>
<circle cx="82.40" cy="597.10" r="2.35" fill="#8c8c8c" stroke="#555555" stroke-width="0.55"/>
<circle cx="84.80" cy="600.20" r="2.35" fill="#8c8c8c" stroke="#555555" stroke-width="0.55"/>
<circle cx="88.50" cy="601.70" r="2.35" fill="#8c8c8c" stroke="#555555" stroke-width="0.55"/>
<circle cx="85.40" cy="602.70" r="2.35" fill="#8c8c8c" stroke="#555555" stroke-width="0.55"/>
<circle cx="83.60" cy="607.00" r="2.35" fill="#8c8c8c" stroke="#555555" stroke-width="0.55"/>
<circle cx="83.00" cy="608.20" r="2.35" fill="#8c8c8c" stroke="#555555" stroke-width="0.55"/>
<circle cx="87.00" cy="608.80" r="2.35" fill="#8c8c8c" stroke="#555555" stroke-width="0.55"/>
<circle cx="84.80" cy="611.30" r="2.35" fill="#8c8c8c" stroke="#555555" stroke-width="0.55"/>
<circle cx="83.00" cy="614.90" r="2.35" fill="#8c8c8c" stroke="#555555" stroke-width="0.55"/>
<circle cx="86.00" cy="615.50" r="2.35" fill="#8c8c8c" stroke="#555555" stroke-width="0.55"/>
<circle cx="88.50" cy="615.50" r="2.35" fill="#8c8c8c" stroke="#555555" stroke-width="0.55"/>
<line x1="54.10" y1="615.50" x2="68.20" y2="615.50" stroke="#231f20" stroke-width="1.2"/>
<line x1="81.70" y1="606.50" x2="95.90" y2="606.50" stroke="#231f20" stroke-width="1.2"/>
<line x1="51.90" y1="618.50" x2="70.10" y2="618.50" stroke="#231f20" stroke-width="1.3"/>
<line x1="79.30" y1="618.50" x2="97.10" y2="618.50" stroke="#231f20" stroke-width="1.3"/>
<line x1="60.50" y1="618.60" x2="60.50" y2="621.60" stroke="#231f20" stroke-width="0.9"/>
<line x1="87.50" y1="618.60" x2="87.50" y2="621.60" stroke="#231f20" stroke-width="0.9"/>
<text x="60.90" y="630.50" font-size="6.6" text-anchor="middle" stroke="#231f20" stroke-width="0.06" textLength="14.20" lengthAdjust="spacingAndGlyphs">Inter</text>
<text x="88.10" y="630.50" font-size="6.6" text-anchor="middle" stroke="#231f20" stroke-width="0.06" textLength="7.80" lengthAdjust="spacingAndGlyphs">CK</text>
<text x="183.10" y="544.50" font-size="6.3" text-anchor="middle" stroke="#231f20" stroke-width="0.06" textLength="23.40" lengthAdjust="spacingAndGlyphs">p=0.097</text>
<text x="137.00" y="571.25" font-size="8.3" text-anchor="middle" stroke="#231f20" stroke-width="0.06" textLength="95.50" lengthAdjust="spacingAndGlyphs" transform="rotate(-90 137.00 571.25)">Cytarabine IC50 (log<tspan font-size="5.2" dy="1.8">2</tspan><tspan dy="-1.8"> nM)</tspan></text>
<line x1="157.50" y1="548.20" x2="157.50" y2="618.00" stroke="#231f20" stroke-width="1"/>
<line x1="154.90" y1="556.50" x2="157.90" y2="556.50" stroke="#231f20" stroke-width="0.8"/>
<text x="152.80" y="559.00" font-size="6.4" text-anchor="end" stroke="#231f20" stroke-width="0.06">10</text>
<line x1="154.90" y1="571.50" x2="157.90" y2="571.50" stroke="#231f20" stroke-width="0.8"/>
<text x="152.80" y="573.60" font-size="6.4" text-anchor="end" stroke="#231f20" stroke-width="0.06">8</text>
<line x1="154.90" y1="586.50" x2="157.90" y2="586.50" stroke="#231f20" stroke-width="0.8"/>
<text x="152.80" y="588.40" font-size="6.4" text-anchor="end" stroke="#231f20" stroke-width="0.06">6</text>
<line x1="154.90" y1="601.50" x2="157.90" y2="601.50" stroke="#231f20" stroke-width="0.8"/>
<text x="152.80" y="603.20" font-size="6.4" text-anchor="end" stroke="#231f20" stroke-width="0.06">4</text>
<line x1="154.90" y1="615.50" x2="157.90" y2="615.50" stroke="#231f20" stroke-width="0.8"/>
<text x="152.80" y="617.70" font-size="6.4" text-anchor="end" stroke="#231f20" stroke-width="0.06">2</text>
<circle cx="173.20" cy="566.40" r="2.35" fill="#8c8c8c" stroke="#555555" stroke-width="0.55"/>
<circle cx="169.80" cy="584.20" r="2.35" fill="#8c8c8c" stroke="#555555" stroke-width="0.55"/>
<circle cx="170.40" cy="588.50" r="2.35" fill="#8c8c8c" stroke="#555555" stroke-width="0.55"/>
<circle cx="171.60" cy="590.60" r="2.35" fill="#8c8c8c" stroke="#555555" stroke-width="0.55"/>
<circle cx="170.40" cy="596.20" r="2.35" fill="#8c8c8c" stroke="#555555" stroke-width="0.55"/>
<circle cx="171.60" cy="602.00" r="2.35" fill="#8c8c8c" stroke="#555555" stroke-width="0.55"/>
<circle cx="174.50" cy="605.00" r="2.35" fill="#8c8c8c" stroke="#555555" stroke-width="0.55"/>
<circle cx="172.30" cy="603.60" r="2.35" fill="#8c8c8c" stroke="#555555" stroke-width="0.55"/>
<circle cx="171.00" cy="612.20" r="2.35" fill="#8c8c8c" stroke="#555555" stroke-width="0.55"/>
<circle cx="173.50" cy="615.50" r="2.35" fill="#8c8c8c" stroke="#555555" stroke-width="0.55"/>
<circle cx="193.70" cy="553.80" r="2.35" fill="#8c8c8c" stroke="#555555" stroke-width="0.55"/>
<circle cx="192.10" cy="560.90" r="2.35" fill="#8c8c8c" stroke="#555555" stroke-width="0.55"/>
<circle cx="194.60" cy="564.00" r="2.35" fill="#8c8c8c" stroke="#555555" stroke-width="0.55"/>
<circle cx="194.10" cy="568.90" r="2.35" fill="#8c8c8c" stroke="#555555" stroke-width="0.55"/>
<circle cx="194.30" cy="570.70" r="2.35" fill="#8c8c8c" stroke="#555555" stroke-width="0.55"/>
<circle cx="198.20" cy="578.10" r="2.35" fill="#8c8c8c" stroke="#555555" stroke-width="0.55"/>
<circle cx="194.30" cy="581.20" r="2.35" fill="#8c8c8c" stroke="#555555" stroke-width="0.55"/>
<circle cx="197.40" cy="583.60" r="2.35" fill="#8c8c8c" stroke="#555555" stroke-width="0.55"/>
<circle cx="196.20" cy="586.00" r="2.35" fill="#8c8c8c" stroke="#555555" stroke-width="0.55"/>
<circle cx="192.50" cy="587.30" r="2.35" fill="#8c8c8c" stroke="#555555" stroke-width="0.55"/>
<circle cx="198.00" cy="588.50" r="2.35" fill="#8c8c8c" stroke="#555555" stroke-width="0.55"/>
<circle cx="199.20" cy="591.30" r="2.35" fill="#8c8c8c" stroke="#555555" stroke-width="0.55"/>
<circle cx="196.20" cy="594.60" r="2.35" fill="#8c8c8c" stroke="#555555" stroke-width="0.55"/>
<circle cx="198.60" cy="597.70" r="2.35" fill="#8c8c8c" stroke="#555555" stroke-width="0.55"/>
<circle cx="195.50" cy="599.50" r="2.35" fill="#8c8c8c" stroke="#555555" stroke-width="0.55"/>
<circle cx="193.70" cy="602.60" r="2.35" fill="#8c8c8c" stroke="#555555" stroke-width="0.55"/>
<circle cx="196.80" cy="603.80" r="2.35" fill="#8c8c8c" stroke="#555555" stroke-width="0.55"/>
<circle cx="194.30" cy="605.70" r="2.35" fill="#8c8c8c" stroke="#555555" stroke-width="0.55"/>
<circle cx="198.60" cy="606.90" r="2.35" fill="#8c8c8c" stroke="#555555" stroke-width="0.55"/>
<circle cx="196.80" cy="609.30" r="2.35" fill="#8c8c8c" stroke="#555555" stroke-width="0.55"/>
<circle cx="195.50" cy="612.40" r="2.35" fill="#8c8c8c" stroke="#555555" stroke-width="0.55"/>
<circle cx="196.80" cy="615.50" r="2.35" fill="#8c8c8c" stroke="#555555" stroke-width="0.55"/>
<line x1="164.30" y1="603.50" x2="178.40" y2="603.50" stroke="#231f20" stroke-width="1.2"/>
<line x1="188.40" y1="589.50" x2="202.90" y2="589.50" stroke="#231f20" stroke-width="1.2"/>
<line x1="162.20" y1="618.50" x2="180.20" y2="618.50" stroke="#231f20" stroke-width="1.3"/>
<line x1="186.30" y1="618.50" x2="204.10" y2="618.50" stroke="#231f20" stroke-width="1.3"/>
<line x1="171.50" y1="618.50" x2="171.50" y2="621.60" stroke="#231f20" stroke-width="0.9"/>
<line x1="195.50" y1="618.50" x2="195.50" y2="621.60" stroke="#231f20" stroke-width="0.9"/>
<text x="171.30" y="630.40" font-size="6.6" text-anchor="middle" stroke="#231f20" stroke-width="0.06" textLength="13.20" lengthAdjust="spacingAndGlyphs">Inter</text>
<text x="194.80" y="630.40" font-size="6.6" text-anchor="middle" stroke="#231f20" stroke-width="0.06" textLength="8.00" lengthAdjust="spacingAndGlyphs">CK</text>
<text x="300.50" y="521.50" font-size="6.4" text-anchor="middle" stroke="#231f20" stroke-width="0.06" textLength="55.60" lengthAdjust="spacingAndGlyphs">CK: TP53<tspan font-size="4.8" dy="-2.6">alt</tspan><tspan dy="2.6"> vs TP53</tspan><tspan font-size="4.8" dy="-2.6">wt</tspan></text>
<text x="280.20" y="532.20" font-size="6.4" text-anchor="middle" stroke="#231f20" stroke-width="0.06" textLength="36.00" lengthAdjust="spacingAndGlyphs">Resistance in</text>
<text x="280.90" y="540.00" font-size="6.4" text-anchor="middle" stroke="#231f20" stroke-width="0.06" textLength="29.40" lengthAdjust="spacingAndGlyphs">CK/TP53<tspan font-size="4.8" dy="-2.6">alt</tspan></text>
<text x="320.40" y="532.20" font-size="6.4" text-anchor="middle" stroke="#231f20" stroke-width="0.06" textLength="35.20" lengthAdjust="spacingAndGlyphs">Sensitivity in</text>
<text x="320.90" y="540.00" font-size="6.4" text-anchor="middle" stroke="#231f20" stroke-width="0.06" textLength="27.80" lengthAdjust="spacingAndGlyphs">CK/TP53<tspan font-size="4.8" dy="-2.6">alt</tspan></text>
<line x1="268.50" y1="546.50" x2="293.20" y2="546.50" stroke="#231f20" stroke-width="1.1"/>
<path d="M265.50 546.40 L269.70 544.20 L269.70 548.60 Z" fill="#231f20"/>
<path d="M296.20 546.40 L292.00 544.20 L292.00 548.60 Z" fill="#231f20"/>
<line x1="308.60" y1="546.50" x2="329.00" y2="546.50" stroke="#231f20" stroke-width="1.1"/>
<path d="M305.60 546.40 L309.80 544.20 L309.80 548.60 Z" fill="#231f20"/>
<path d="M332.00 546.40 L327.80 544.20 L327.80 548.60 Z" fill="#231f20"/>
<line x1="297.50" y1="551.50" x2="297.50" y2="618.00" stroke="#9a9a9a" stroke-width="0.6" stroke-dasharray="1.2,1"/>
<line x1="264.80" y1="595.50" x2="331.00" y2="595.50" stroke="#9a9a9a" stroke-width="0.6" stroke-dasharray="1.2,1"/>
<line x1="264.50" y1="551.20" x2="264.50" y2="618.40" stroke="#231f20" stroke-width="1"/>
<line x1="261.50" y1="553.50" x2="264.50" y2="553.50" stroke="#231f20" stroke-width="0.8"/>
<text x="259.00" y="555.90" font-size="6.4" text-anchor="end" stroke="#231f20" stroke-width="0.06">4</text>
<line x1="261.50" y1="569.50" x2="264.50" y2="569.50" stroke="#231f20" stroke-width="0.8"/>
<text x="259.00" y="571.40" font-size="6.4" text-anchor="end" stroke="#231f20" stroke-width="0.06">3</text>
<line x1="261.50" y1="584.50" x2="264.50" y2="584.50" stroke="#231f20" stroke-width="0.8"/>
<text x="259.00" y="586.70" font-size="6.4" text-anchor="end" stroke="#231f20" stroke-width="0.06">2</text>
<line x1="261.50" y1="600.50" x2="264.50" y2="600.50" stroke="#231f20" stroke-width="0.8"/>
<text x="259.00" y="602.20" font-size="6.4" text-anchor="end" stroke="#231f20" stroke-width="0.06">1</text>
<line x1="261.50" y1="615.50" x2="264.50" y2="615.50" stroke="#231f20" stroke-width="0.8"/>
<text x="259.00" y="617.30" font-size="6.4" text-anchor="end" stroke="#231f20" stroke-width="0.06">0</text>
<line x1="264.00" y1="618.50" x2="331.20" y2="618.50" stroke="#231f20" stroke-width="1"/>
<line x1="267.50" y1="618.10" x2="267.50" y2="620.60" stroke="#231f20" stroke-width="0.8"/>
<text x="267.10" y="631.00" font-size="6.6" text-anchor="middle" stroke="#231f20" stroke-width="0.06">−4</text>
<line x1="282.50" y1="618.10" x2="282.50" y2="620.60" stroke="#231f20" stroke-width="0.8"/>
<text x="282.20" y="631.00" font-size="6.6" text-anchor="middle" stroke="#231f20" stroke-width="0.06">−2</text>
<line x1="297.50" y1="618.10" x2="297.50" y2="620.60" stroke="#231f20" stroke-width="0.8"/>
<text x="297.40" y="631.00" font-size="6.6" text-anchor="middle" stroke="#231f20" stroke-width="0.06">0</text>
<line x1="312.50" y1="618.10" x2="312.50" y2="620.60" stroke="#231f20" stroke-width="0.8"/>
<text x="312.60" y="631.00" font-size="6.6" text-anchor="middle" stroke="#231f20" stroke-width="0.06">2</text>
<line x1="327.50" y1="618.10" x2="327.50" y2="620.60" stroke="#231f20" stroke-width="0.8"/>
<text x="327.70" y="631.00" font-size="6.6" text-anchor="middle" stroke="#231f20" stroke-width="0.06">4</text>
<text x="297.70" y="643.20" font-size="8.4" text-anchor="middle" stroke="#231f20" stroke-width="0.06" textLength="99.00" lengthAdjust="spacingAndGlyphs">Difference of log2 medians</text>
<text x="247.60" y="576.70" font-size="8.0" text-anchor="middle" stroke="#231f20" stroke-width="0.06" textLength="56.00" lengthAdjust="spacingAndGlyphs" transform="rotate(-90 247.60 576.70)">-log<tspan font-size="5.2" dy="1.8">10</tspan><tspan dy="-1.8">(p-value)</tspan></text>
<circle cx="293.40" cy="569.20" r="2.1" fill="#858585" stroke="#7a7a7a" stroke-width="0.3"/>
<circle cx="289.10" cy="580.80" r="2.1" fill="#858585" stroke="#7a7a7a" stroke-width="0.3"/>
<circle cx="291.70" cy="595.20" r="2.1" fill="#858585" stroke="#7a7a7a" stroke-width="0.3"/>
<circle cx="290.50" cy="597.80" r="2.1" fill="#858585" stroke="#7a7a7a" stroke-width="0.3"/>
<circle cx="288.70" cy="600.40" r="2.1" fill="#858585" stroke="#7a7a7a" stroke-width="0.3"/>
<circle cx="292.20" cy="601.20" r="2.1" fill="#858585" stroke="#7a7a7a" stroke-width="0.3"/>
<circle cx="287.00" cy="603.00" r="2.1" fill="#858585" stroke="#7a7a7a" stroke-width="0.3"/>
<circle cx="290.50" cy="604.70" r="2.1" fill="#858585" stroke="#7a7a7a" stroke-width="0.3"/>
<circle cx="294.80" cy="606.40" r="2.1" fill="#858585" stroke="#7a7a7a" stroke-width="0.3"/>
<circle cx="282.70" cy="604.70" r="2.1" fill="#858585" stroke="#7a7a7a" stroke-width="0.3"/>
<circle cx="288.70" cy="609.90" r="2.1" fill="#858585" stroke="#7a7a7a" stroke-width="0.3"/>
<circle cx="298.30" cy="611.60" r="2.1" fill="#858585" stroke="#7a7a7a" stroke-width="0.3"/>
<circle cx="301.70" cy="609.90" r="2.1" fill="#858585" stroke="#7a7a7a" stroke-width="0.3"/>
<circle cx="296.50" cy="613.40" r="2.1" fill="#858585" stroke="#7a7a7a" stroke-width="0.3"/>
<circle cx="292.20" cy="614.20" r="2.1" fill="#858585" stroke="#7a7a7a" stroke-width="0.3"/>
<circle cx="298.30" cy="613.90" r="2.1" fill="#858585" stroke="#7a7a7a" stroke-width="0.3"/>
<circle cx="303.50" cy="603.00" r="2.1" fill="#858585" stroke="#7a7a7a" stroke-width="0.3"/>
<circle cx="307.80" cy="607.30" r="2.1" fill="#858585" stroke="#7a7a7a" stroke-width="0.3"/>
<circle cx="306.60" cy="607.30" r="2.1" fill="#858585" stroke="#7a7a7a" stroke-width="0.3"/>
<circle cx="291.00" cy="593.00" r="2.1" fill="#858585" stroke="#7a7a7a" stroke-width="0.3"/>
<circle cx="286.00" cy="606.50" r="2.1" fill="#858585" stroke="#7a7a7a" stroke-width="0.3"/>
<circle cx="287.90" cy="590.30" r="2.0" fill="#d0e2f4" stroke="#8090a8" stroke-width="0.5"/>
<circle cx="287.00" cy="591.40" r="2.0" fill="#d0e2f4" stroke="#8090a8" stroke-width="0.5"/>
<circle cx="292.20" cy="591.70" r="2.0" fill="#d0e2f4" stroke="#8090a8" stroke-width="0.5"/>
<circle cx="294.50" cy="613.90" r="2.0" fill="#d0e2f4" stroke="#8090a8" stroke-width="0.5"/>
<circle cx="300.90" cy="600.40" r="2.0" fill="#c42c2c" stroke="#6a1010" stroke-width="0.5"/>
<circle cx="304.80" cy="601.60" r="2.0" fill="#c42c2c" stroke="#6a1010" stroke-width="0.5"/>
<polyline points="269.7,567.8 287.6,589.8" fill="none" stroke="#231f20" stroke-width="0.85"/>
<polyline points="281.0,578.7 286.8,590.8" fill="none" stroke="#231f20" stroke-width="0.85"/>
<polyline points="295.2,587.9 292.6,591.2" fill="none" stroke="#231f20" stroke-width="0.85"/>
<polyline points="310.7,599.8 305.4,601.4" fill="none" stroke="#231f20" stroke-width="0.85"/>
<polyline points="310.7,604.7 305.2,602.1" fill="none" stroke="#231f20" stroke-width="0.85"/>
<polyline points="280.1,609.4 292.2,611.6" fill="none" stroke="#231f20" stroke-width="0.85"/>
<text x="268.00" y="567.50" font-size="6.6" stroke="#231f20" stroke-width="0.06" textLength="38.00" lengthAdjust="spacingAndGlyphs">Mitoxantrone</text>
<text x="277.80" y="578.80" font-size="6.6" stroke="#231f20" stroke-width="0.06" textLength="38.10" lengthAdjust="spacingAndGlyphs">Daunorubicin</text>
<text x="295.20" y="587.40" font-size="6.6" stroke="#231f20" stroke-width="0.06" textLength="32.50" lengthAdjust="spacingAndGlyphs">Fludarabine</text>
<text x="310.70" y="600.40" font-size="6.6" stroke="#231f20" stroke-width="0.06" textLength="28.80" lengthAdjust="spacingAndGlyphs">Rigosertib</text>
<text x="311.20" y="608.00" font-size="6.6" stroke="#231f20" stroke-width="0.06" textLength="27.70" lengthAdjust="spacingAndGlyphs">Volasertib</text>
<text x="266.80" y="608.00" font-size="6.6" stroke="#231f20" stroke-width="0.06" textLength="30.60" lengthAdjust="spacingAndGlyphs">Cytarabine</text>
<rect x="0.85" y="0.75" width="518.2" height="651.3" fill="none" stroke="#4b4b4b" stroke-width="1.9"/>
</svg>
</body></html>
